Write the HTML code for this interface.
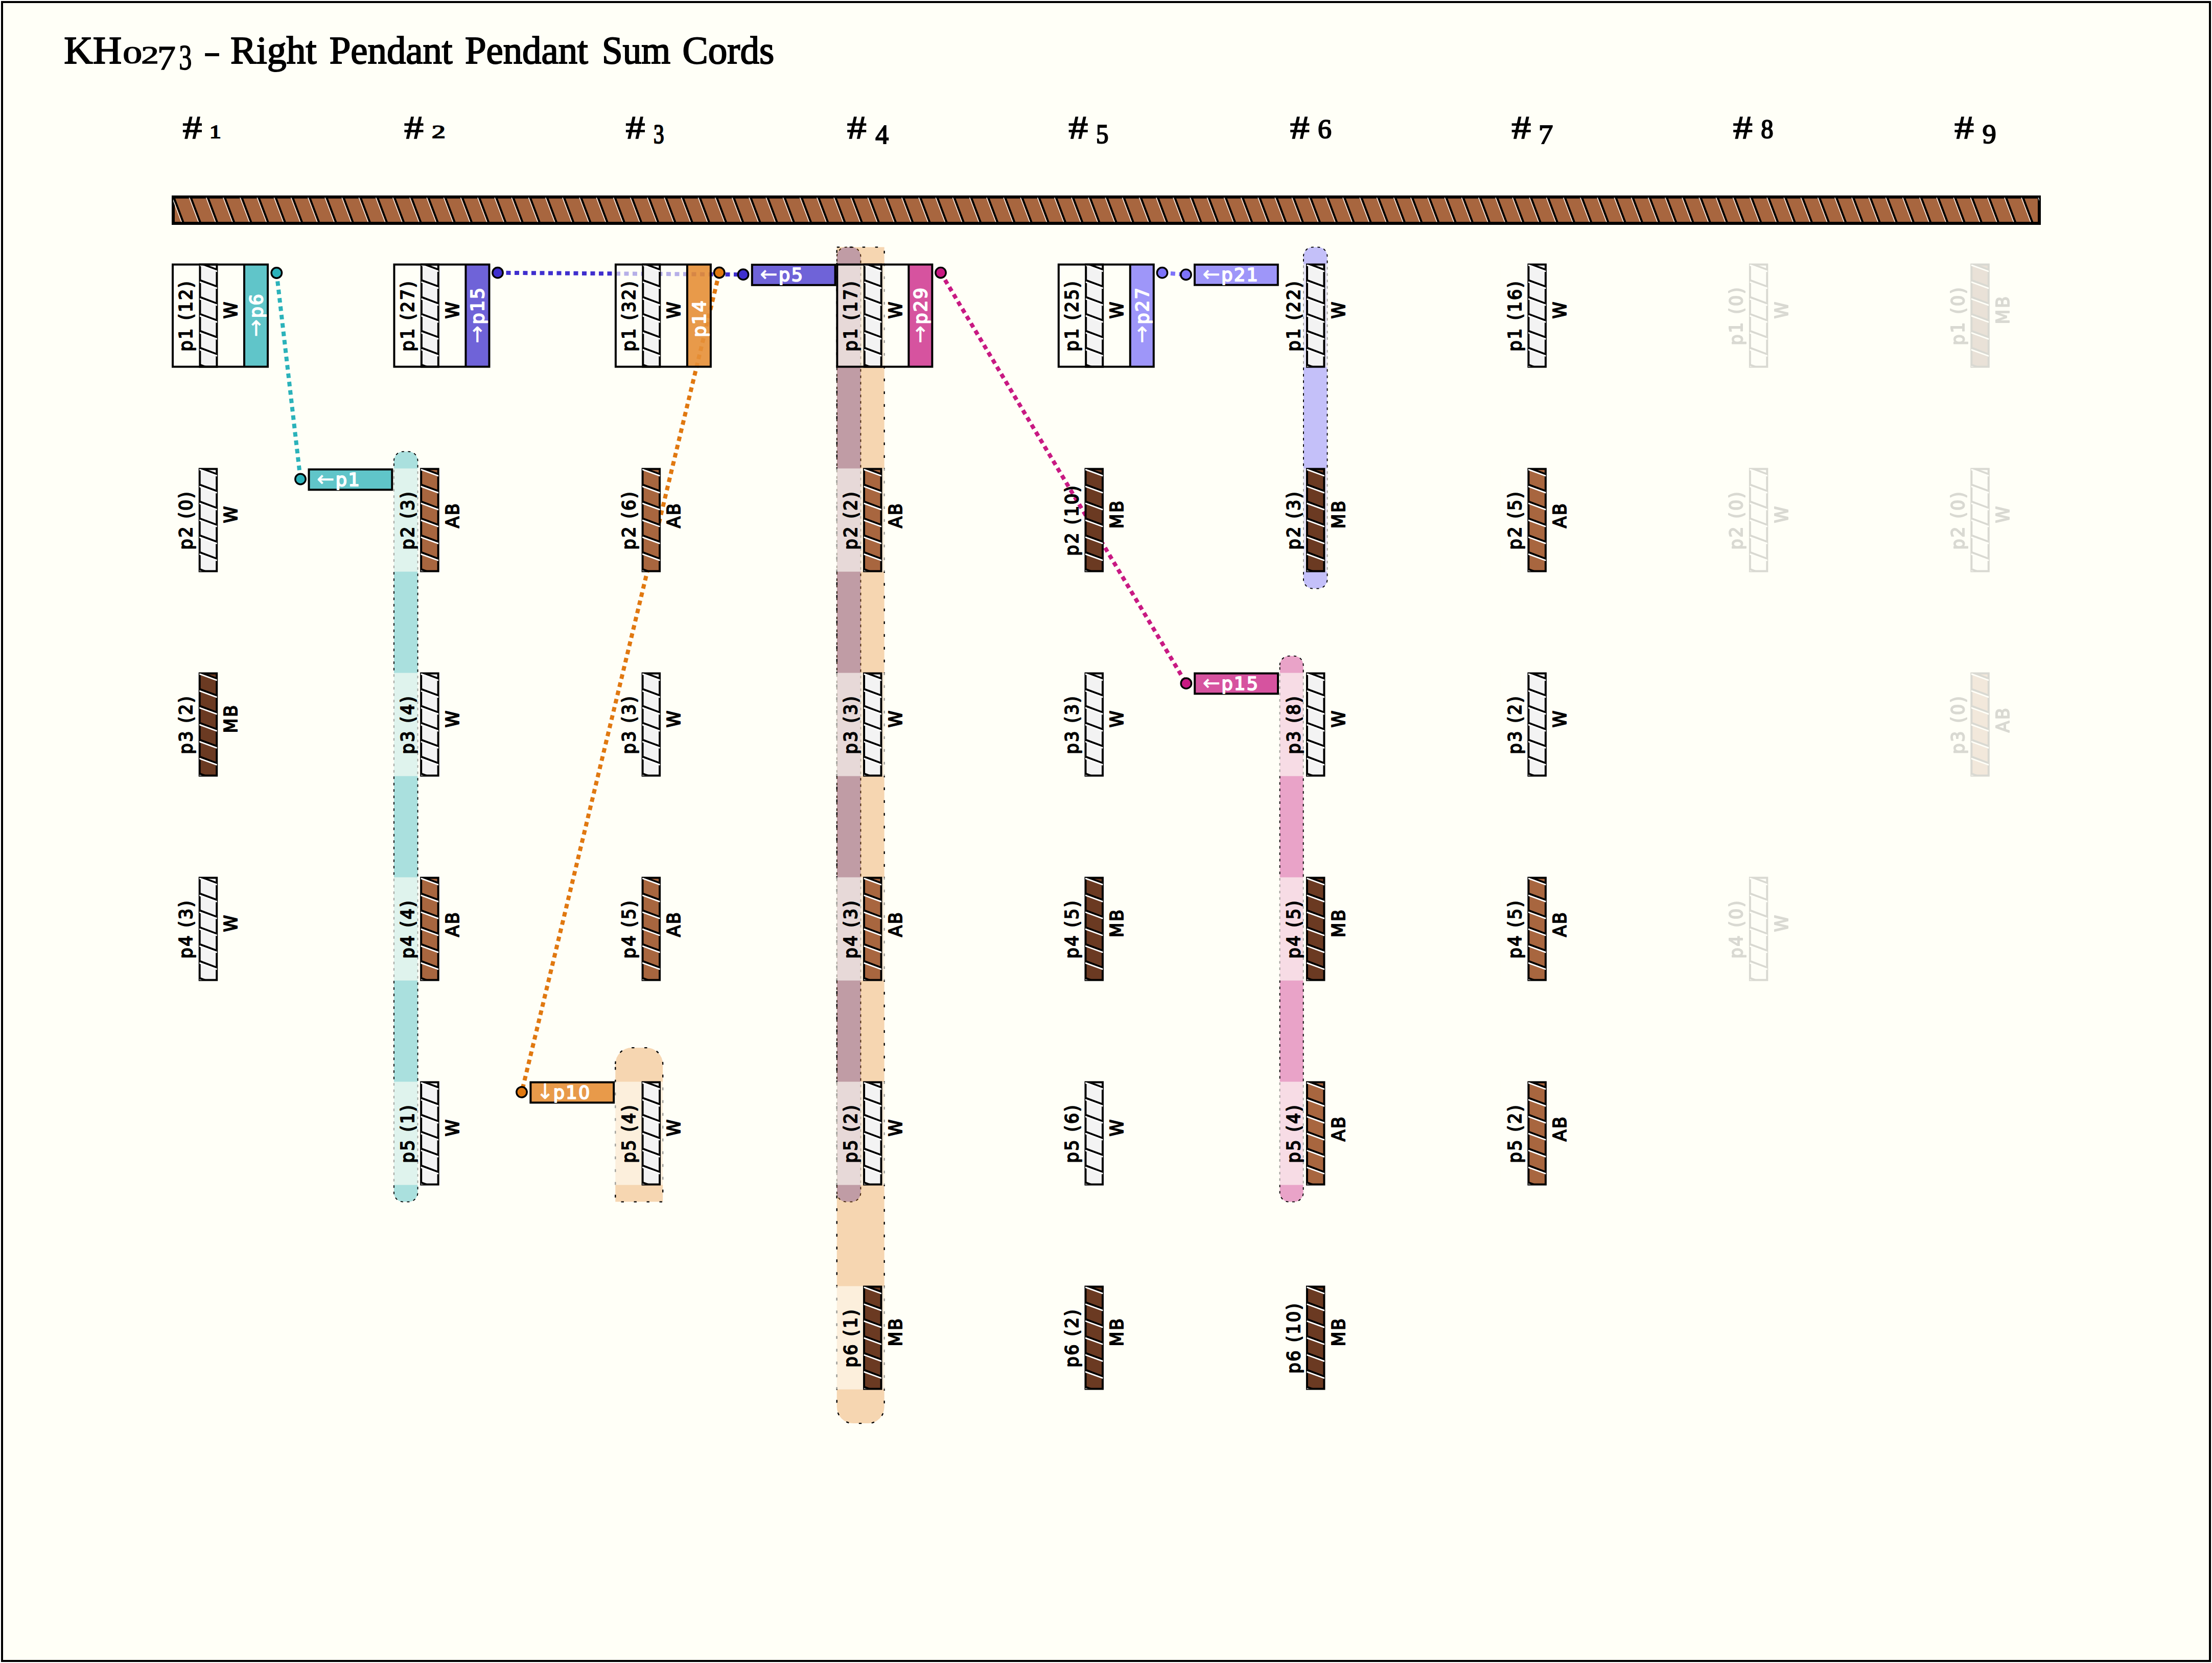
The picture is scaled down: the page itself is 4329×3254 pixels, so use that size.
<!DOCTYPE html><html><head><meta charset="utf-8"><title>KH0273 - Right Pendant Pendant Sum Cords</title>
<style>html,body{margin:0;padding:0;background:#fff;overflow:hidden;}svg{display:block}.lab{font-family:'DejaVu Sans','Liberation Sans',sans-serif;font-size:35.0px;stroke-width:2.0px;stroke-linejoin:round;paint-order:stroke fill;}.arr{font-size:41px;stroke-width:0.6px;}.ser{font-family:"Liberation Serif","DejaVu Serif",serif;}</style></head><body>
<svg width="4329" height="3254" viewBox="0 0 4329 3254">
<rect x="0" y="0" width="4329" height="3254" fill="#fff"/>
<rect x="4" y="4" width="4321" height="3246" fill="#fffff7" stroke="#000" stroke-width="4"/>
<text class="ser" stroke="#000"><tspan x="125.2" y="124.4" font-size="75.5" stroke-width="2.0" textLength="113" lengthAdjust="spacingAndGlyphs">KH</tspan><tspan x="240.21" y="124.02" font-size="48.3" stroke-width="1.24" textLength="37.97" lengthAdjust="spacingAndGlyphs">0</tspan><tspan x="276.15" y="123.6" font-size="48.04" stroke-width="1.31" textLength="34.66" lengthAdjust="spacingAndGlyphs">2</tspan><tspan x="307.83" y="136.3" font-size="67.94" stroke-width="1.36" textLength="36.17" lengthAdjust="spacingAndGlyphs">7</tspan><tspan x="350.28" y="136.11" font-size="69.2" stroke-width="1.62" textLength="25.18" lengthAdjust="spacingAndGlyphs">3</tspan> <tspan x="397.26" y="126.1" font-size="81.33" stroke-width="0.17" textLength="35.48" lengthAdjust="spacingAndGlyphs">-</tspan> <tspan x="451.1" y="124.4" font-size="75.5" stroke-width="2.0" textLength="168.4" lengthAdjust="spacingAndGlyphs">Right</tspan> <tspan x="644.8" y="124.4" font-size="75.5" stroke-width="2.0" textLength="240.8" lengthAdjust="spacingAndGlyphs">Pendant</tspan> <tspan x="910" y="124.4" font-size="75.5" stroke-width="2.0" textLength="240.8" lengthAdjust="spacingAndGlyphs">Pendant</tspan> <tspan x="1178" y="124.4" font-size="75.5" stroke-width="2.0" textLength="134" lengthAdjust="spacingAndGlyphs">Sum</tspan> <tspan x="1335.6" y="124.4" font-size="75.5" stroke-width="2.0" textLength="179.7" lengthAdjust="spacingAndGlyphs">Cords</tspan></text>
<text class="ser" stroke="#000"><tspan x="357.53" y="271.4" font-size="62.75" stroke-width="1.63" textLength="37.93" lengthAdjust="spacingAndGlyphs">#</tspan> <tspan x="410" y="270.4" font-size="36.67" stroke-width="1.79" textLength="22.73" lengthAdjust="spacingAndGlyphs">1</tspan></text>
<text class="ser" stroke="#000"><tspan x="790.98" y="271.4" font-size="62.75" stroke-width="1.63" textLength="37.93" lengthAdjust="spacingAndGlyphs">#</tspan> <tspan x="845.09" y="270.4" font-size="36.56" stroke-width="1.62" textLength="26.81" lengthAdjust="spacingAndGlyphs">2</tspan></text>
<text class="ser" stroke="#000"><tspan x="1224.43" y="271.4" font-size="62.75" stroke-width="1.63" textLength="37.93" lengthAdjust="spacingAndGlyphs">#</tspan> <tspan x="1278.92" y="280.28" font-size="52.08" stroke-width="2.23" textLength="20.58" lengthAdjust="spacingAndGlyphs">3</tspan></text>
<text class="ser" stroke="#000"><tspan x="1657.88" y="271.4" font-size="62.75" stroke-width="1.63" textLength="37.93" lengthAdjust="spacingAndGlyphs">#</tspan> <tspan x="1713.32" y="280.8" font-size="53.19" stroke-width="2.03" textLength="25.86" lengthAdjust="spacingAndGlyphs">4</tspan></text>
<text class="ser" stroke="#000"><tspan x="2091.33" y="271.4" font-size="62.75" stroke-width="1.63" textLength="37.93" lengthAdjust="spacingAndGlyphs">#</tspan> <tspan x="2144.96" y="280.27" font-size="52.63" stroke-width="2.07" textLength="24.44" lengthAdjust="spacingAndGlyphs">5</tspan></text>
<text class="ser" stroke="#000"><tspan x="2524.78" y="271.4" font-size="62.75" stroke-width="1.63" textLength="37.93" lengthAdjust="spacingAndGlyphs">#</tspan> <tspan x="2578.93" y="270.27" font-size="53.42" stroke-width="1.99" textLength="26.93" lengthAdjust="spacingAndGlyphs">6</tspan></text>
<text class="ser" stroke="#000"><tspan x="2958.23" y="271.4" font-size="62.75" stroke-width="1.63" textLength="37.93" lengthAdjust="spacingAndGlyphs">#</tspan> <tspan x="3010.95" y="280.8" font-size="53.44" stroke-width="1.94" textLength="28.4" lengthAdjust="spacingAndGlyphs">7</tspan></text>
<text class="ser" stroke="#000"><tspan x="3391.68" y="271.4" font-size="62.75" stroke-width="1.63" textLength="37.93" lengthAdjust="spacingAndGlyphs">#</tspan> <tspan x="3446.3" y="270.27" font-size="53.19" stroke-width="2.09" textLength="24.29" lengthAdjust="spacingAndGlyphs">8</tspan></text>
<text class="ser" stroke="#000"><tspan x="3825.13" y="271.4" font-size="62.75" stroke-width="1.63" textLength="37.93" lengthAdjust="spacingAndGlyphs">#</tspan> <tspan x="3879.88" y="280.28" font-size="52.08" stroke-width="1.97" textLength="26.93" lengthAdjust="spacingAndGlyphs">9</tspan></text>
<g><clipPath id="pc"><rect x="339" y="385.5" width="3652" height="51.5"/></clipPath>
<clipPath id="pcw"><rect x="339" y="386.7" width="3652" height="47.5"/></clipPath>
<rect x="339" y="385.5" width="3652" height="51.5" fill="#a8663f"/>
<path clip-path="url(#pc)" d="M306.13,383.5l20.93,55.5M339.33,383.5l20.93,55.5M372.53,383.5l20.93,55.5M405.73,383.5l20.93,55.5M438.93,383.5l20.93,55.5M472.13,383.5l20.93,55.5M505.33,383.5l20.93,55.5M538.53,383.5l20.93,55.5M571.73,383.5l20.93,55.5M604.93,383.5l20.93,55.5M638.13,383.5l20.93,55.5M671.33,383.5l20.93,55.5M704.53,383.5l20.93,55.5M737.73,383.5l20.93,55.5M770.93,383.5l20.93,55.5M804.13,383.5l20.93,55.5M837.33,383.5l20.93,55.5M870.53,383.5l20.93,55.5M903.73,383.5l20.93,55.5M936.93,383.5l20.93,55.5M970.13,383.5l20.93,55.5M1003.33,383.5l20.93,55.5M1036.53,383.5l20.93,55.5M1069.73,383.5l20.93,55.5M1102.93,383.5l20.93,55.5M1136.13,383.5l20.93,55.5M1169.33,383.5l20.93,55.5M1202.53,383.5l20.93,55.5M1235.73,383.5l20.93,55.5M1268.93,383.5l20.93,55.5M1302.13,383.5l20.93,55.5M1335.33,383.5l20.93,55.5M1368.53,383.5l20.93,55.5M1401.73,383.5l20.93,55.5M1434.93,383.5l20.93,55.5M1468.13,383.5l20.93,55.5M1501.33,383.5l20.93,55.5M1534.53,383.5l20.93,55.5M1567.73,383.5l20.93,55.5M1600.93,383.5l20.93,55.5M1634.13,383.5l20.93,55.5M1667.33,383.5l20.93,55.5M1700.53,383.5l20.93,55.5M1733.73,383.5l20.93,55.5M1766.93,383.5l20.93,55.5M1800.13,383.5l20.93,55.5M1833.33,383.5l20.93,55.5M1866.53,383.5l20.93,55.5M1899.73,383.5l20.93,55.5M1932.93,383.5l20.93,55.5M1966.13,383.5l20.93,55.5M1999.33,383.5l20.93,55.5M2032.53,383.5l20.93,55.5M2065.73,383.5l20.93,55.5M2098.93,383.5l20.93,55.5M2132.13,383.5l20.93,55.5M2165.33,383.5l20.93,55.5M2198.53,383.5l20.93,55.5M2231.73,383.5l20.93,55.5M2264.93,383.5l20.93,55.5M2298.13,383.5l20.93,55.5M2331.33,383.5l20.93,55.5M2364.53,383.5l20.93,55.5M2397.73,383.5l20.93,55.5M2430.93,383.5l20.93,55.5M2464.13,383.5l20.93,55.5M2497.33,383.5l20.93,55.5M2530.53,383.5l20.93,55.5M2563.73,383.5l20.93,55.5M2596.93,383.5l20.93,55.5M2630.13,383.5l20.93,55.5M2663.33,383.5l20.93,55.5M2696.53,383.5l20.93,55.5M2729.73,383.5l20.93,55.5M2762.93,383.5l20.93,55.5M2796.13,383.5l20.93,55.5M2829.33,383.5l20.93,55.5M2862.53,383.5l20.93,55.5M2895.73,383.5l20.93,55.5M2928.93,383.5l20.93,55.5M2962.13,383.5l20.93,55.5M2995.33,383.5l20.93,55.5M3028.53,383.5l20.93,55.5M3061.73,383.5l20.93,55.5M3094.93,383.5l20.93,55.5M3128.13,383.5l20.93,55.5M3161.33,383.5l20.93,55.5M3194.53,383.5l20.93,55.5M3227.73,383.5l20.93,55.5M3260.93,383.5l20.93,55.5M3294.13,383.5l20.93,55.5M3327.33,383.5l20.93,55.5M3360.53,383.5l20.93,55.5M3393.73,383.5l20.93,55.5M3426.93,383.5l20.93,55.5M3460.13,383.5l20.93,55.5M3493.33,383.5l20.93,55.5M3526.53,383.5l20.93,55.5M3559.73,383.5l20.93,55.5M3592.93,383.5l20.93,55.5M3626.13,383.5l20.93,55.5M3659.33,383.5l20.93,55.5M3692.53,383.5l20.93,55.5M3725.73,383.5l20.93,55.5M3758.93,383.5l20.93,55.5M3792.13,383.5l20.93,55.5M3825.33,383.5l20.93,55.5M3858.53,383.5l20.93,55.5M3891.73,383.5l20.93,55.5M3924.93,383.5l20.93,55.5M3958.13,383.5l20.93,55.5M3991.33,383.5l20.93,55.5" stroke="#000" stroke-width="3.8" fill="none"/>
<rect x="339" y="385.5" width="3652" height="51.5" fill="none" stroke="#000" stroke-width="6"/>
<path clip-path="url(#pcw)" d="M302.73,383.5l20.93,55.5M335.93,383.5l20.93,55.5M369.13,383.5l20.93,55.5M402.33,383.5l20.93,55.5M435.53,383.5l20.93,55.5M468.73,383.5l20.93,55.5M501.93,383.5l20.93,55.5M535.13,383.5l20.93,55.5M568.33,383.5l20.93,55.5M601.53,383.5l20.93,55.5M634.73,383.5l20.93,55.5M667.93,383.5l20.93,55.5M701.13,383.5l20.93,55.5M734.33,383.5l20.93,55.5M767.53,383.5l20.93,55.5M800.73,383.5l20.93,55.5M833.93,383.5l20.93,55.5M867.13,383.5l20.93,55.5M900.33,383.5l20.93,55.5M933.53,383.5l20.93,55.5M966.73,383.5l20.93,55.5M999.93,383.5l20.93,55.5M1033.13,383.5l20.93,55.5M1066.33,383.5l20.93,55.5M1099.53,383.5l20.93,55.5M1132.73,383.5l20.93,55.5M1165.93,383.5l20.93,55.5M1199.13,383.5l20.93,55.5M1232.33,383.5l20.93,55.5M1265.53,383.5l20.93,55.5M1298.73,383.5l20.93,55.5M1331.93,383.5l20.93,55.5M1365.13,383.5l20.93,55.5M1398.33,383.5l20.93,55.5M1431.53,383.5l20.93,55.5M1464.73,383.5l20.93,55.5M1497.93,383.5l20.93,55.5M1531.13,383.5l20.93,55.5M1564.33,383.5l20.93,55.5M1597.53,383.5l20.93,55.5M1630.73,383.5l20.93,55.5M1663.93,383.5l20.93,55.5M1697.13,383.5l20.93,55.5M1730.33,383.5l20.93,55.5M1763.53,383.5l20.93,55.5M1796.73,383.5l20.93,55.5M1829.93,383.5l20.93,55.5M1863.13,383.5l20.93,55.5M1896.33,383.5l20.93,55.5M1929.53,383.5l20.93,55.5M1962.73,383.5l20.93,55.5M1995.93,383.5l20.93,55.5M2029.13,383.5l20.93,55.5M2062.33,383.5l20.93,55.5M2095.53,383.5l20.93,55.5M2128.73,383.5l20.93,55.5M2161.93,383.5l20.93,55.5M2195.13,383.5l20.93,55.5M2228.33,383.5l20.93,55.5M2261.53,383.5l20.93,55.5M2294.73,383.5l20.93,55.5M2327.93,383.5l20.93,55.5M2361.13,383.5l20.93,55.5M2394.33,383.5l20.93,55.5M2427.53,383.5l20.93,55.5M2460.73,383.5l20.93,55.5M2493.93,383.5l20.93,55.5M2527.13,383.5l20.93,55.5M2560.33,383.5l20.93,55.5M2593.53,383.5l20.93,55.5M2626.73,383.5l20.93,55.5M2659.93,383.5l20.93,55.5M2693.13,383.5l20.93,55.5M2726.33,383.5l20.93,55.5M2759.53,383.5l20.93,55.5M2792.73,383.5l20.93,55.5M2825.93,383.5l20.93,55.5M2859.13,383.5l20.93,55.5M2892.33,383.5l20.93,55.5M2925.53,383.5l20.93,55.5M2958.73,383.5l20.93,55.5M2991.93,383.5l20.93,55.5M3025.13,383.5l20.93,55.5M3058.33,383.5l20.93,55.5M3091.53,383.5l20.93,55.5M3124.73,383.5l20.93,55.5M3157.93,383.5l20.93,55.5M3191.13,383.5l20.93,55.5M3224.33,383.5l20.93,55.5M3257.53,383.5l20.93,55.5M3290.73,383.5l20.93,55.5M3323.93,383.5l20.93,55.5M3357.13,383.5l20.93,55.5M3390.33,383.5l20.93,55.5M3423.53,383.5l20.93,55.5M3456.73,383.5l20.93,55.5M3489.93,383.5l20.93,55.5M3523.13,383.5l20.93,55.5M3556.33,383.5l20.93,55.5M3589.53,383.5l20.93,55.5M3622.73,383.5l20.93,55.5M3655.93,383.5l20.93,55.5M3689.13,383.5l20.93,55.5M3722.33,383.5l20.93,55.5M3755.53,383.5l20.93,55.5M3788.73,383.5l20.93,55.5M3821.93,383.5l20.93,55.5M3855.13,383.5l20.93,55.5M3888.33,383.5l20.93,55.5M3921.53,383.5l20.93,55.5M3954.73,383.5l20.93,55.5M3987.93,383.5l20.93,55.5" stroke="#fff" stroke-width="1.3" fill="none"/></g>
<path d="M770.95,901.6 A18,18 0 0 1 788.95,883.6 L799.55,883.6 A18,18 0 0 1 817.55,901.6 L817.55,2333.6 A18,18 0 0 1 799.55,2351.6 L788.95,2351.6 A18,18 0 0 1 770.95,2333.6 Z" fill="#2bb2ba" fill-opacity="0.4" stroke="#000" stroke-width="1.9" stroke-dasharray="5 7.5"/>
<path d="M1204.3,2082.1 A32,32 0 0 1 1236.3,2050.1 L1265.2,2050.1 A32,32 0 0 1 1297.2,2082.1 L1297.2,2351.6 L1204.3,2351.6 Z" fill="#e07810" fill-opacity="0.3" stroke="#000" stroke-width="2.4" stroke-dasharray="5.4 19.6"/>
<path d="M1637.85,501.6 A18,18 0 0 1 1655.85,483.6 L1666.45,483.6 A18,18 0 0 1 1684.45,501.6 L1684.45,2333.6 A18,18 0 0 1 1666.45,2351.6 L1655.85,2351.6 A18,18 0 0 1 1637.85,2333.6 Z" fill="#3f2fce" fill-opacity="0.4" stroke="#000" stroke-width="1.9" stroke-dasharray="5 7.5"/>
<path d="M1637.75,483.6 L1730.65,483.6 L1730.65,2753.1 A32,32 0 0 1 1698.65,2785.1 L1669.75,2785.1 A32,32 0 0 1 1637.75,2753.1 Z" fill="#e07810" fill-opacity="0.3" stroke="#000" stroke-width="2.4" stroke-dasharray="5.4 19.6"/>
<path d="M2550.95,501.6 A18,18 0 0 1 2568.95,483.6 L2579.55,483.6 A18,18 0 0 1 2597.55,501.6 L2597.55,1133.6 A18,18 0 0 1 2579.55,1151.6 L2568.95,1151.6 A18,18 0 0 1 2550.95,1133.6 Z" fill="#7d73fa" fill-opacity="0.45" stroke="#000" stroke-width="1.9" stroke-dasharray="5 7.5"/>
<path d="M2504.65,1301.6 A18,18 0 0 1 2522.65,1283.6 L2532.65,1283.6 A18,18 0 0 1 2550.65,1301.6 L2550.65,2333.6 A18,18 0 0 1 2532.65,2351.6 L2522.65,2351.6 A18,18 0 0 1 2504.65,2333.6 Z" fill="#c81982" fill-opacity="0.4" stroke="#000" stroke-width="1.9" stroke-dasharray="5 7.5"/>
<rect x="336" y="916.6" width="96" height="202" fill="#fffff7" fill-opacity="0.62"/>
<rect x="336" y="1316.6" width="96" height="202" fill="#fffff7" fill-opacity="0.62"/>
<rect x="336" y="1716.6" width="96" height="202" fill="#fffff7" fill-opacity="0.62"/>
<rect x="769.45" y="916.6" width="96" height="202" fill="#fffff7" fill-opacity="0.62"/>
<rect x="769.45" y="1316.6" width="96" height="202" fill="#fffff7" fill-opacity="0.62"/>
<rect x="769.45" y="1716.6" width="96" height="202" fill="#fffff7" fill-opacity="0.62"/>
<rect x="769.45" y="2116.6" width="96" height="202" fill="#fffff7" fill-opacity="0.62"/>
<rect x="1202.9" y="916.6" width="96" height="202" fill="#fffff7" fill-opacity="0.62"/>
<rect x="1202.9" y="1316.6" width="96" height="202" fill="#fffff7" fill-opacity="0.62"/>
<rect x="1202.9" y="1716.6" width="96" height="202" fill="#fffff7" fill-opacity="0.62"/>
<rect x="1202.9" y="2116.6" width="96" height="202" fill="#fffff7" fill-opacity="0.62"/>
<rect x="1636.35" y="916.6" width="96" height="202" fill="#fffff7" fill-opacity="0.62"/>
<rect x="1636.35" y="1316.6" width="96" height="202" fill="#fffff7" fill-opacity="0.62"/>
<rect x="1636.35" y="1716.6" width="96" height="202" fill="#fffff7" fill-opacity="0.62"/>
<rect x="1636.35" y="2116.6" width="96" height="202" fill="#fffff7" fill-opacity="0.62"/>
<rect x="1636.35" y="2516.6" width="96" height="202" fill="#fffff7" fill-opacity="0.62"/>
<rect x="2069.8" y="916.6" width="96" height="202" fill="#fffff7" fill-opacity="0.62"/>
<rect x="2069.8" y="1316.6" width="96" height="202" fill="#fffff7" fill-opacity="0.62"/>
<rect x="2069.8" y="1716.6" width="96" height="202" fill="#fffff7" fill-opacity="0.62"/>
<rect x="2069.8" y="2116.6" width="96" height="202" fill="#fffff7" fill-opacity="0.62"/>
<rect x="2069.8" y="2516.6" width="96" height="202" fill="#fffff7" fill-opacity="0.62"/>
<rect x="2503.25" y="516.6" width="96" height="202" fill="#fffff7" fill-opacity="0.62"/>
<rect x="2503.25" y="916.6" width="96" height="202" fill="#fffff7" fill-opacity="0.62"/>
<rect x="2503.25" y="1316.6" width="96" height="202" fill="#fffff7" fill-opacity="0.62"/>
<rect x="2503.25" y="1716.6" width="96" height="202" fill="#fffff7" fill-opacity="0.62"/>
<rect x="2503.25" y="2116.6" width="96" height="202" fill="#fffff7" fill-opacity="0.62"/>
<rect x="2503.25" y="2516.6" width="96" height="202" fill="#fffff7" fill-opacity="0.62"/>
<rect x="2936.7" y="516.6" width="96" height="202" fill="#fffff7" fill-opacity="0.62"/>
<rect x="2936.7" y="916.6" width="96" height="202" fill="#fffff7" fill-opacity="0.62"/>
<rect x="2936.7" y="1316.6" width="96" height="202" fill="#fffff7" fill-opacity="0.62"/>
<rect x="2936.7" y="1716.6" width="96" height="202" fill="#fffff7" fill-opacity="0.62"/>
<rect x="2936.7" y="2116.6" width="96" height="202" fill="#fffff7" fill-opacity="0.62"/>
<rect x="3370.15" y="516.6" width="96" height="202" fill="#fffff7" fill-opacity="0.62"/>
<rect x="3370.15" y="916.6" width="96" height="202" fill="#fffff7" fill-opacity="0.62"/>
<rect x="3370.15" y="1716.6" width="96" height="202" fill="#fffff7" fill-opacity="0.62"/>
<rect x="3803.6" y="516.6" width="96" height="202" fill="#fffff7" fill-opacity="0.62"/>
<rect x="3803.6" y="916.6" width="96" height="202" fill="#fffff7" fill-opacity="0.62"/>
<rect x="3803.6" y="1316.6" width="96" height="202" fill="#fffff7" fill-opacity="0.62"/>
<line x1="541.3" y1="534" x2="588" y2="937.5" stroke="#2bb2ba" stroke-width="8" stroke-dasharray="9 7.5"/>
<line x1="974" y1="533.7" x2="1454.5" y2="537.2" stroke="#3f2fce" stroke-width="8" stroke-dasharray="9 7.5"/>
<line x1="1407.7" y1="533.5" x2="1021" y2="2137" stroke="#e07810" stroke-width="8" stroke-dasharray="9 7.5"/>
<line x1="1841" y1="533.6" x2="2321.4" y2="1337.2" stroke="#c81982" stroke-width="8" stroke-dasharray="9 7.5"/>
<line x1="2274.5" y1="533.7" x2="2321" y2="537.3" stroke="#7d73fa" stroke-width="8" stroke-dasharray="9 7.5"/>
<rect x="338" y="517.6" width="186" height="200" fill="#fffff7" fill-opacity="0.62"/>
<rect x="478" y="517.6" width="46" height="200" fill="#2bb2ba" fill-opacity="0.75"/>
<g><clipPath id="c391_517"><rect x="390.8" y="517.6" width="34.2" height="200"/></clipPath>
<rect x="391.4" y="517.6" width="33" height="200" fill="#f3f3f3"/>
<path clip-path="url(#c391_517)" d="M391.4,482.1L424.4,494.52M391.4,515.2L424.4,527.62M391.4,548.3L424.4,560.72M391.4,581.4L424.4,593.82M391.4,614.5L424.4,626.92M391.4,647.6L424.4,660.02M391.4,680.7L424.4,693.12M391.4,713.8L424.4,726.22M391.4,746.9L424.4,759.32" stroke="#000" stroke-width="4" fill="none"/>
<rect x="391.4" y="517.6" width="33" height="200" fill="none" stroke="#000" stroke-width="4"/>
<path clip-path="url(#c391_517)" d="M390.8,485.5L425,497.92M390.8,518.6L425,531.02M390.8,551.7L425,564.12M390.8,584.8L425,597.22M390.8,617.9L425,630.32M390.8,651L425,663.42M390.8,684.1L425,696.52M390.8,717.2L425,729.62M390.8,750.3L425,762.72" stroke="#fff" stroke-width="2.8" fill="none"/></g>
<line x1="478" y1="517.6" x2="478" y2="717.6" stroke="#000" stroke-width="4"/>
<rect x="338" y="517.6" width="186" height="200" fill="none" stroke="#000" stroke-width="4"/>
<text transform="translate(513.8,615.9) rotate(-90) scale(1.0,1)" text-anchor="middle" fill="#fff" stroke="#fff" class="lab" letter-spacing="2.40"><tspan class="arr">→</tspan>p6</text>
<text transform="translate(376.3,617.55) rotate(-90) scale(0.95,1)" text-anchor="middle" fill="#000" stroke="#000" class="lab" letter-spacing="2.84">p1 (12)</text>
<text transform="translate(464.4,605.75) rotate(-90) scale(0.95,1)" text-anchor="middle" fill="#000" stroke="#000" class="lab" letter-spacing="2.84">W</text>
<g><clipPath id="c390_917"><rect x="390.1" y="917.6" width="34.7" height="200"/></clipPath>
<rect x="390.7" y="917.6" width="33.5" height="200" fill="#f3f3f3"/>
<path clip-path="url(#c390_917)" d="M390.7,882.1L424.2,894.71M390.7,915.2L424.2,927.81M390.7,948.3L424.2,960.91M390.7,981.4L424.2,994.01M390.7,1014.5L424.2,1027.11M390.7,1047.6L424.2,1060.21M390.7,1080.7L424.2,1093.31M390.7,1113.8L424.2,1126.41M390.7,1146.9L424.2,1159.51" stroke="#000" stroke-width="4" fill="none"/>
<rect x="390.7" y="917.6" width="33.5" height="200" fill="none" stroke="#000" stroke-width="4"/>
<path clip-path="url(#c390_917)" d="M390.1,885.5L424.8,898.11M390.1,918.6L424.8,931.21M390.1,951.7L424.8,964.31M390.1,984.8L424.8,997.41M390.1,1017.9L424.8,1030.51M390.1,1051L424.8,1063.61M390.1,1084.1L424.8,1096.71M390.1,1117.2L424.8,1129.81M390.1,1150.3L424.8,1162.91" stroke="#fff" stroke-width="2.8" fill="none"/></g>
<text transform="translate(376.3,1017.55) rotate(-90) scale(0.95,1)" text-anchor="middle" fill="#000" stroke="#000" class="lab" letter-spacing="2.84">p2 (0)</text>
<text transform="translate(464.4,1005.75) rotate(-90) scale(0.95,1)" text-anchor="middle" fill="#000" stroke="#000" class="lab" letter-spacing="2.84">W</text>
<g><clipPath id="c390_1317"><rect x="390.1" y="1317.6" width="34.7" height="200"/></clipPath>
<rect x="390.7" y="1317.6" width="33.5" height="200" fill="#6b3a22"/>
<path clip-path="url(#c390_1317)" d="M390.7,1282.1L424.2,1294.71M390.7,1315.2L424.2,1327.81M390.7,1348.3L424.2,1360.91M390.7,1381.4L424.2,1394.01M390.7,1414.5L424.2,1427.11M390.7,1447.6L424.2,1460.21M390.7,1480.7L424.2,1493.31M390.7,1513.8L424.2,1526.41M390.7,1546.9L424.2,1559.51" stroke="#000" stroke-width="4" fill="none"/>
<rect x="390.7" y="1317.6" width="33.5" height="200" fill="none" stroke="#000" stroke-width="4"/>
<path clip-path="url(#c390_1317)" d="M390.1,1285.5L424.8,1298.11M390.1,1318.6L424.8,1331.21M390.1,1351.7L424.8,1364.31M390.1,1384.8L424.8,1397.41M390.1,1417.9L424.8,1430.51M390.1,1451L424.8,1463.61M390.1,1484.1L424.8,1496.71M390.1,1517.2L424.8,1529.81M390.1,1550.3L424.8,1562.91" stroke="#fff" stroke-width="2.8" fill="none"/></g>
<text transform="translate(376.3,1417.55) rotate(-90) scale(0.95,1)" text-anchor="middle" fill="#000" stroke="#000" class="lab" letter-spacing="2.84">p3 (2)</text>
<text transform="translate(464.4,1405.75) rotate(-90) scale(0.95,1)" text-anchor="middle" fill="#000" stroke="#000" class="lab" letter-spacing="2.84">MB</text>
<g><clipPath id="c390_1717"><rect x="390.1" y="1717.6" width="34.7" height="200"/></clipPath>
<rect x="390.7" y="1717.6" width="33.5" height="200" fill="#f3f3f3"/>
<path clip-path="url(#c390_1717)" d="M390.7,1682.1L424.2,1694.71M390.7,1715.2L424.2,1727.81M390.7,1748.3L424.2,1760.91M390.7,1781.4L424.2,1794.01M390.7,1814.5L424.2,1827.11M390.7,1847.6L424.2,1860.21M390.7,1880.7L424.2,1893.31M390.7,1913.8L424.2,1926.41M390.7,1946.9L424.2,1959.51" stroke="#000" stroke-width="4" fill="none"/>
<rect x="390.7" y="1717.6" width="33.5" height="200" fill="none" stroke="#000" stroke-width="4"/>
<path clip-path="url(#c390_1717)" d="M390.1,1685.5L424.8,1698.11M390.1,1718.6L424.8,1731.21M390.1,1751.7L424.8,1764.31M390.1,1784.8L424.8,1797.41M390.1,1817.9L424.8,1830.51M390.1,1851L424.8,1863.61M390.1,1884.1L424.8,1896.71M390.1,1917.2L424.8,1929.81M390.1,1950.3L424.8,1962.91" stroke="#fff" stroke-width="2.8" fill="none"/></g>
<text transform="translate(376.3,1817.55) rotate(-90) scale(0.95,1)" text-anchor="middle" fill="#000" stroke="#000" class="lab" letter-spacing="2.84">p4 (3)</text>
<text transform="translate(464.4,1805.75) rotate(-90) scale(0.95,1)" text-anchor="middle" fill="#000" stroke="#000" class="lab" letter-spacing="2.84">W</text>
<rect x="771.45" y="517.6" width="186" height="200" fill="#fffff7" fill-opacity="0.62"/>
<rect x="911.45" y="517.6" width="46" height="200" fill="#3f2fce" fill-opacity="0.75"/>
<g><clipPath id="c824_517"><rect x="824.25" y="517.6" width="34.2" height="200"/></clipPath>
<rect x="824.85" y="517.6" width="33" height="200" fill="#f3f3f3"/>
<path clip-path="url(#c824_517)" d="M824.85,482.1L857.85,494.52M824.85,515.2L857.85,527.62M824.85,548.3L857.85,560.72M824.85,581.4L857.85,593.82M824.85,614.5L857.85,626.92M824.85,647.6L857.85,660.02M824.85,680.7L857.85,693.12M824.85,713.8L857.85,726.22M824.85,746.9L857.85,759.32" stroke="#000" stroke-width="4" fill="none"/>
<rect x="824.85" y="517.6" width="33" height="200" fill="none" stroke="#000" stroke-width="4"/>
<path clip-path="url(#c824_517)" d="M824.25,485.5L858.45,497.92M824.25,518.6L858.45,531.02M824.25,551.7L858.45,564.12M824.25,584.8L858.45,597.22M824.25,617.9L858.45,630.32M824.25,651L858.45,663.42M824.25,684.1L858.45,696.52M824.25,717.2L858.45,729.62M824.25,750.3L858.45,762.72" stroke="#fff" stroke-width="2.8" fill="none"/></g>
<line x1="911.45" y1="517.6" x2="911.45" y2="717.6" stroke="#000" stroke-width="4"/>
<rect x="771.45" y="517.6" width="186" height="200" fill="none" stroke="#000" stroke-width="4"/>
<text transform="translate(947.25,615.9) rotate(-90) scale(1.0,1)" text-anchor="middle" fill="#fff" stroke="#fff" class="lab" letter-spacing="2.40"><tspan class="arr">→</tspan>p15</text>
<text transform="translate(809.75,617.55) rotate(-90) scale(0.95,1)" text-anchor="middle" fill="#000" stroke="#000" class="lab" letter-spacing="2.84">p1 (27)</text>
<text transform="translate(897.85,605.75) rotate(-90) scale(0.95,1)" text-anchor="middle" fill="#000" stroke="#000" class="lab" letter-spacing="2.84">W</text>
<g><clipPath id="c824_917"><rect x="823.55" y="917.6" width="34.7" height="200"/></clipPath>
<rect x="824.15" y="917.6" width="33.5" height="200" fill="#a8663f"/>
<path clip-path="url(#c824_917)" d="M824.15,882.1L857.65,894.71M824.15,915.2L857.65,927.81M824.15,948.3L857.65,960.91M824.15,981.4L857.65,994.01M824.15,1014.5L857.65,1027.11M824.15,1047.6L857.65,1060.21M824.15,1080.7L857.65,1093.31M824.15,1113.8L857.65,1126.41M824.15,1146.9L857.65,1159.51" stroke="#000" stroke-width="4" fill="none"/>
<rect x="824.15" y="917.6" width="33.5" height="200" fill="none" stroke="#000" stroke-width="4"/>
<path clip-path="url(#c824_917)" d="M823.55,885.5L858.25,898.11M823.55,918.6L858.25,931.21M823.55,951.7L858.25,964.31M823.55,984.8L858.25,997.41M823.55,1017.9L858.25,1030.51M823.55,1051L858.25,1063.61M823.55,1084.1L858.25,1096.71M823.55,1117.2L858.25,1129.81M823.55,1150.3L858.25,1162.91" stroke="#fff" stroke-width="2.8" fill="none"/></g>
<text transform="translate(809.75,1017.55) rotate(-90) scale(0.95,1)" text-anchor="middle" fill="#000" stroke="#000" class="lab" letter-spacing="2.84">p2 (3)</text>
<text transform="translate(897.85,1007.85) rotate(-90) scale(0.95,1)" text-anchor="middle" fill="#000" stroke="#000" class="lab" letter-spacing="2.84">AB</text>
<g><clipPath id="c824_1317"><rect x="823.55" y="1317.6" width="34.7" height="200"/></clipPath>
<rect x="824.15" y="1317.6" width="33.5" height="200" fill="#f3f3f3"/>
<path clip-path="url(#c824_1317)" d="M824.15,1282.1L857.65,1294.71M824.15,1315.2L857.65,1327.81M824.15,1348.3L857.65,1360.91M824.15,1381.4L857.65,1394.01M824.15,1414.5L857.65,1427.11M824.15,1447.6L857.65,1460.21M824.15,1480.7L857.65,1493.31M824.15,1513.8L857.65,1526.41M824.15,1546.9L857.65,1559.51" stroke="#000" stroke-width="4" fill="none"/>
<rect x="824.15" y="1317.6" width="33.5" height="200" fill="none" stroke="#000" stroke-width="4"/>
<path clip-path="url(#c824_1317)" d="M823.55,1285.5L858.25,1298.11M823.55,1318.6L858.25,1331.21M823.55,1351.7L858.25,1364.31M823.55,1384.8L858.25,1397.41M823.55,1417.9L858.25,1430.51M823.55,1451L858.25,1463.61M823.55,1484.1L858.25,1496.71M823.55,1517.2L858.25,1529.81M823.55,1550.3L858.25,1562.91" stroke="#fff" stroke-width="2.8" fill="none"/></g>
<text transform="translate(809.75,1417.55) rotate(-90) scale(0.95,1)" text-anchor="middle" fill="#000" stroke="#000" class="lab" letter-spacing="2.84">p3 (4)</text>
<text transform="translate(897.85,1405.75) rotate(-90) scale(0.95,1)" text-anchor="middle" fill="#000" stroke="#000" class="lab" letter-spacing="2.84">W</text>
<g><clipPath id="c824_1717"><rect x="823.55" y="1717.6" width="34.7" height="200"/></clipPath>
<rect x="824.15" y="1717.6" width="33.5" height="200" fill="#a8663f"/>
<path clip-path="url(#c824_1717)" d="M824.15,1682.1L857.65,1694.71M824.15,1715.2L857.65,1727.81M824.15,1748.3L857.65,1760.91M824.15,1781.4L857.65,1794.01M824.15,1814.5L857.65,1827.11M824.15,1847.6L857.65,1860.21M824.15,1880.7L857.65,1893.31M824.15,1913.8L857.65,1926.41M824.15,1946.9L857.65,1959.51" stroke="#000" stroke-width="4" fill="none"/>
<rect x="824.15" y="1717.6" width="33.5" height="200" fill="none" stroke="#000" stroke-width="4"/>
<path clip-path="url(#c824_1717)" d="M823.55,1685.5L858.25,1698.11M823.55,1718.6L858.25,1731.21M823.55,1751.7L858.25,1764.31M823.55,1784.8L858.25,1797.41M823.55,1817.9L858.25,1830.51M823.55,1851L858.25,1863.61M823.55,1884.1L858.25,1896.71M823.55,1917.2L858.25,1929.81M823.55,1950.3L858.25,1962.91" stroke="#fff" stroke-width="2.8" fill="none"/></g>
<text transform="translate(809.75,1817.55) rotate(-90) scale(0.95,1)" text-anchor="middle" fill="#000" stroke="#000" class="lab" letter-spacing="2.84">p4 (4)</text>
<text transform="translate(897.85,1807.85) rotate(-90) scale(0.95,1)" text-anchor="middle" fill="#000" stroke="#000" class="lab" letter-spacing="2.84">AB</text>
<g><clipPath id="c824_2117"><rect x="823.55" y="2117.6" width="34.7" height="200"/></clipPath>
<rect x="824.15" y="2117.6" width="33.5" height="200" fill="#f3f3f3"/>
<path clip-path="url(#c824_2117)" d="M824.15,2082.1L857.65,2094.71M824.15,2115.2L857.65,2127.81M824.15,2148.3L857.65,2160.91M824.15,2181.4L857.65,2194.01M824.15,2214.5L857.65,2227.11M824.15,2247.6L857.65,2260.21M824.15,2280.7L857.65,2293.31M824.15,2313.8L857.65,2326.41M824.15,2346.9L857.65,2359.51" stroke="#000" stroke-width="4" fill="none"/>
<rect x="824.15" y="2117.6" width="33.5" height="200" fill="none" stroke="#000" stroke-width="4"/>
<path clip-path="url(#c824_2117)" d="M823.55,2085.5L858.25,2098.11M823.55,2118.6L858.25,2131.21M823.55,2151.7L858.25,2164.31M823.55,2184.8L858.25,2197.41M823.55,2217.9L858.25,2230.51M823.55,2251L858.25,2263.61M823.55,2284.1L858.25,2296.71M823.55,2317.2L858.25,2329.81M823.55,2350.3L858.25,2362.91" stroke="#fff" stroke-width="2.8" fill="none"/></g>
<text transform="translate(809.75,2217.55) rotate(-90) scale(0.95,1)" text-anchor="middle" fill="#000" stroke="#000" class="lab" letter-spacing="2.84">p5 (1)</text>
<text transform="translate(897.85,2205.75) rotate(-90) scale(0.95,1)" text-anchor="middle" fill="#000" stroke="#000" class="lab" letter-spacing="2.84">W</text>
<rect x="1204.9" y="517.6" width="186" height="200" fill="#fffff7" fill-opacity="0.62"/>
<rect x="1344.9" y="517.6" width="46" height="200" fill="#e07810" fill-opacity="0.75"/>
<g><clipPath id="c1258_517"><rect x="1257.7" y="517.6" width="34.2" height="200"/></clipPath>
<rect x="1258.3" y="517.6" width="33" height="200" fill="#f3f3f3"/>
<path clip-path="url(#c1258_517)" d="M1258.3,482.1L1291.3,494.52M1258.3,515.2L1291.3,527.62M1258.3,548.3L1291.3,560.72M1258.3,581.4L1291.3,593.82M1258.3,614.5L1291.3,626.92M1258.3,647.6L1291.3,660.02M1258.3,680.7L1291.3,693.12M1258.3,713.8L1291.3,726.22M1258.3,746.9L1291.3,759.32" stroke="#000" stroke-width="4" fill="none"/>
<rect x="1258.3" y="517.6" width="33" height="200" fill="none" stroke="#000" stroke-width="4"/>
<path clip-path="url(#c1258_517)" d="M1257.7,485.5L1291.9,497.92M1257.7,518.6L1291.9,531.02M1257.7,551.7L1291.9,564.12M1257.7,584.8L1291.9,597.22M1257.7,617.9L1291.9,630.32M1257.7,651L1291.9,663.42M1257.7,684.1L1291.9,696.52M1257.7,717.2L1291.9,729.62M1257.7,750.3L1291.9,762.72" stroke="#fff" stroke-width="2.8" fill="none"/></g>
<line x1="1344.9" y1="517.6" x2="1344.9" y2="717.6" stroke="#000" stroke-width="4"/>
<rect x="1204.9" y="517.6" width="186" height="200" fill="none" stroke="#000" stroke-width="4"/>
<text transform="translate(1380.7,622.8) rotate(-90) scale(1.0,1)" text-anchor="middle" fill="#fff" stroke="#fff" class="lab" letter-spacing="2.40">p14</text>
<text transform="translate(1243.2,617.55) rotate(-90) scale(0.95,1)" text-anchor="middle" fill="#000" stroke="#000" class="lab" letter-spacing="2.84">p1 (32)</text>
<text transform="translate(1331.3,605.75) rotate(-90) scale(0.95,1)" text-anchor="middle" fill="#000" stroke="#000" class="lab" letter-spacing="2.84">W</text>
<g><clipPath id="c1257_917"><rect x="1257" y="917.6" width="34.7" height="200"/></clipPath>
<rect x="1257.6" y="917.6" width="33.5" height="200" fill="#a8663f"/>
<path clip-path="url(#c1257_917)" d="M1257.6,882.1L1291.1,894.71M1257.6,915.2L1291.1,927.81M1257.6,948.3L1291.1,960.91M1257.6,981.4L1291.1,994.01M1257.6,1014.5L1291.1,1027.11M1257.6,1047.6L1291.1,1060.21M1257.6,1080.7L1291.1,1093.31M1257.6,1113.8L1291.1,1126.41M1257.6,1146.9L1291.1,1159.51" stroke="#000" stroke-width="4" fill="none"/>
<rect x="1257.6" y="917.6" width="33.5" height="200" fill="none" stroke="#000" stroke-width="4"/>
<path clip-path="url(#c1257_917)" d="M1257,885.5L1291.7,898.11M1257,918.6L1291.7,931.21M1257,951.7L1291.7,964.31M1257,984.8L1291.7,997.41M1257,1017.9L1291.7,1030.51M1257,1051L1291.7,1063.61M1257,1084.1L1291.7,1096.71M1257,1117.2L1291.7,1129.81M1257,1150.3L1291.7,1162.91" stroke="#fff" stroke-width="2.8" fill="none"/></g>
<text transform="translate(1243.2,1017.55) rotate(-90) scale(0.95,1)" text-anchor="middle" fill="#000" stroke="#000" class="lab" letter-spacing="2.84">p2 (6)</text>
<text transform="translate(1331.3,1007.85) rotate(-90) scale(0.95,1)" text-anchor="middle" fill="#000" stroke="#000" class="lab" letter-spacing="2.84">AB</text>
<g><clipPath id="c1257_1317"><rect x="1257" y="1317.6" width="34.7" height="200"/></clipPath>
<rect x="1257.6" y="1317.6" width="33.5" height="200" fill="#f3f3f3"/>
<path clip-path="url(#c1257_1317)" d="M1257.6,1282.1L1291.1,1294.71M1257.6,1315.2L1291.1,1327.81M1257.6,1348.3L1291.1,1360.91M1257.6,1381.4L1291.1,1394.01M1257.6,1414.5L1291.1,1427.11M1257.6,1447.6L1291.1,1460.21M1257.6,1480.7L1291.1,1493.31M1257.6,1513.8L1291.1,1526.41M1257.6,1546.9L1291.1,1559.51" stroke="#000" stroke-width="4" fill="none"/>
<rect x="1257.6" y="1317.6" width="33.5" height="200" fill="none" stroke="#000" stroke-width="4"/>
<path clip-path="url(#c1257_1317)" d="M1257,1285.5L1291.7,1298.11M1257,1318.6L1291.7,1331.21M1257,1351.7L1291.7,1364.31M1257,1384.8L1291.7,1397.41M1257,1417.9L1291.7,1430.51M1257,1451L1291.7,1463.61M1257,1484.1L1291.7,1496.71M1257,1517.2L1291.7,1529.81M1257,1550.3L1291.7,1562.91" stroke="#fff" stroke-width="2.8" fill="none"/></g>
<text transform="translate(1243.2,1417.55) rotate(-90) scale(0.95,1)" text-anchor="middle" fill="#000" stroke="#000" class="lab" letter-spacing="2.84">p3 (3)</text>
<text transform="translate(1331.3,1405.75) rotate(-90) scale(0.95,1)" text-anchor="middle" fill="#000" stroke="#000" class="lab" letter-spacing="2.84">W</text>
<g><clipPath id="c1257_1717"><rect x="1257" y="1717.6" width="34.7" height="200"/></clipPath>
<rect x="1257.6" y="1717.6" width="33.5" height="200" fill="#a8663f"/>
<path clip-path="url(#c1257_1717)" d="M1257.6,1682.1L1291.1,1694.71M1257.6,1715.2L1291.1,1727.81M1257.6,1748.3L1291.1,1760.91M1257.6,1781.4L1291.1,1794.01M1257.6,1814.5L1291.1,1827.11M1257.6,1847.6L1291.1,1860.21M1257.6,1880.7L1291.1,1893.31M1257.6,1913.8L1291.1,1926.41M1257.6,1946.9L1291.1,1959.51" stroke="#000" stroke-width="4" fill="none"/>
<rect x="1257.6" y="1717.6" width="33.5" height="200" fill="none" stroke="#000" stroke-width="4"/>
<path clip-path="url(#c1257_1717)" d="M1257,1685.5L1291.7,1698.11M1257,1718.6L1291.7,1731.21M1257,1751.7L1291.7,1764.31M1257,1784.8L1291.7,1797.41M1257,1817.9L1291.7,1830.51M1257,1851L1291.7,1863.61M1257,1884.1L1291.7,1896.71M1257,1917.2L1291.7,1929.81M1257,1950.3L1291.7,1962.91" stroke="#fff" stroke-width="2.8" fill="none"/></g>
<text transform="translate(1243.2,1817.55) rotate(-90) scale(0.95,1)" text-anchor="middle" fill="#000" stroke="#000" class="lab" letter-spacing="2.84">p4 (5)</text>
<text transform="translate(1331.3,1807.85) rotate(-90) scale(0.95,1)" text-anchor="middle" fill="#000" stroke="#000" class="lab" letter-spacing="2.84">AB</text>
<g><clipPath id="c1257_2117"><rect x="1257" y="2117.6" width="34.7" height="200"/></clipPath>
<rect x="1257.6" y="2117.6" width="33.5" height="200" fill="#f3f3f3"/>
<path clip-path="url(#c1257_2117)" d="M1257.6,2082.1L1291.1,2094.71M1257.6,2115.2L1291.1,2127.81M1257.6,2148.3L1291.1,2160.91M1257.6,2181.4L1291.1,2194.01M1257.6,2214.5L1291.1,2227.11M1257.6,2247.6L1291.1,2260.21M1257.6,2280.7L1291.1,2293.31M1257.6,2313.8L1291.1,2326.41M1257.6,2346.9L1291.1,2359.51" stroke="#000" stroke-width="4" fill="none"/>
<rect x="1257.6" y="2117.6" width="33.5" height="200" fill="none" stroke="#000" stroke-width="4"/>
<path clip-path="url(#c1257_2117)" d="M1257,2085.5L1291.7,2098.11M1257,2118.6L1291.7,2131.21M1257,2151.7L1291.7,2164.31M1257,2184.8L1291.7,2197.41M1257,2217.9L1291.7,2230.51M1257,2251L1291.7,2263.61M1257,2284.1L1291.7,2296.71M1257,2317.2L1291.7,2329.81M1257,2350.3L1291.7,2362.91" stroke="#fff" stroke-width="2.8" fill="none"/></g>
<text transform="translate(1243.2,2217.55) rotate(-90) scale(0.95,1)" text-anchor="middle" fill="#000" stroke="#000" class="lab" letter-spacing="2.84">p5 (4)</text>
<text transform="translate(1331.3,2205.75) rotate(-90) scale(0.95,1)" text-anchor="middle" fill="#000" stroke="#000" class="lab" letter-spacing="2.84">W</text>
<rect x="1638.35" y="517.6" width="186" height="200" fill="#fffff7" fill-opacity="0.62"/>
<rect x="1778.35" y="517.6" width="46" height="200" fill="#c81982" fill-opacity="0.75"/>
<g><clipPath id="c1691_517"><rect x="1691.15" y="517.6" width="34.2" height="200"/></clipPath>
<rect x="1691.75" y="517.6" width="33" height="200" fill="#f3f3f3"/>
<path clip-path="url(#c1691_517)" d="M1691.75,482.1L1724.75,494.52M1691.75,515.2L1724.75,527.62M1691.75,548.3L1724.75,560.72M1691.75,581.4L1724.75,593.82M1691.75,614.5L1724.75,626.92M1691.75,647.6L1724.75,660.02M1691.75,680.7L1724.75,693.12M1691.75,713.8L1724.75,726.22M1691.75,746.9L1724.75,759.32" stroke="#000" stroke-width="4" fill="none"/>
<rect x="1691.75" y="517.6" width="33" height="200" fill="none" stroke="#000" stroke-width="4"/>
<path clip-path="url(#c1691_517)" d="M1691.15,485.5L1725.35,497.92M1691.15,518.6L1725.35,531.02M1691.15,551.7L1725.35,564.12M1691.15,584.8L1725.35,597.22M1691.15,617.9L1725.35,630.32M1691.15,651L1725.35,663.42M1691.15,684.1L1725.35,696.52M1691.15,717.2L1725.35,729.62M1691.15,750.3L1725.35,762.72" stroke="#fff" stroke-width="2.8" fill="none"/></g>
<line x1="1778.35" y1="517.6" x2="1778.35" y2="717.6" stroke="#000" stroke-width="4"/>
<rect x="1638.35" y="517.6" width="186" height="200" fill="none" stroke="#000" stroke-width="4"/>
<text transform="translate(1814.15,615.9) rotate(-90) scale(1.0,1)" text-anchor="middle" fill="#fff" stroke="#fff" class="lab" letter-spacing="2.40"><tspan class="arr">→</tspan>p29</text>
<text transform="translate(1676.65,617.55) rotate(-90) scale(0.95,1)" text-anchor="middle" fill="#000" stroke="#000" class="lab" letter-spacing="2.84">p1 (17)</text>
<text transform="translate(1764.75,605.75) rotate(-90) scale(0.95,1)" text-anchor="middle" fill="#000" stroke="#000" class="lab" letter-spacing="2.84">W</text>
<g><clipPath id="c1691_917"><rect x="1690.45" y="917.6" width="34.7" height="200"/></clipPath>
<rect x="1691.05" y="917.6" width="33.5" height="200" fill="#a8663f"/>
<path clip-path="url(#c1691_917)" d="M1691.05,882.1L1724.55,894.71M1691.05,915.2L1724.55,927.81M1691.05,948.3L1724.55,960.91M1691.05,981.4L1724.55,994.01M1691.05,1014.5L1724.55,1027.11M1691.05,1047.6L1724.55,1060.21M1691.05,1080.7L1724.55,1093.31M1691.05,1113.8L1724.55,1126.41M1691.05,1146.9L1724.55,1159.51" stroke="#000" stroke-width="4" fill="none"/>
<rect x="1691.05" y="917.6" width="33.5" height="200" fill="none" stroke="#000" stroke-width="4"/>
<path clip-path="url(#c1691_917)" d="M1690.45,885.5L1725.15,898.11M1690.45,918.6L1725.15,931.21M1690.45,951.7L1725.15,964.31M1690.45,984.8L1725.15,997.41M1690.45,1017.9L1725.15,1030.51M1690.45,1051L1725.15,1063.61M1690.45,1084.1L1725.15,1096.71M1690.45,1117.2L1725.15,1129.81M1690.45,1150.3L1725.15,1162.91" stroke="#fff" stroke-width="2.8" fill="none"/></g>
<text transform="translate(1676.65,1017.55) rotate(-90) scale(0.95,1)" text-anchor="middle" fill="#000" stroke="#000" class="lab" letter-spacing="2.84">p2 (2)</text>
<text transform="translate(1764.75,1007.85) rotate(-90) scale(0.95,1)" text-anchor="middle" fill="#000" stroke="#000" class="lab" letter-spacing="2.84">AB</text>
<g><clipPath id="c1691_1317"><rect x="1690.45" y="1317.6" width="34.7" height="200"/></clipPath>
<rect x="1691.05" y="1317.6" width="33.5" height="200" fill="#f3f3f3"/>
<path clip-path="url(#c1691_1317)" d="M1691.05,1282.1L1724.55,1294.71M1691.05,1315.2L1724.55,1327.81M1691.05,1348.3L1724.55,1360.91M1691.05,1381.4L1724.55,1394.01M1691.05,1414.5L1724.55,1427.11M1691.05,1447.6L1724.55,1460.21M1691.05,1480.7L1724.55,1493.31M1691.05,1513.8L1724.55,1526.41M1691.05,1546.9L1724.55,1559.51" stroke="#000" stroke-width="4" fill="none"/>
<rect x="1691.05" y="1317.6" width="33.5" height="200" fill="none" stroke="#000" stroke-width="4"/>
<path clip-path="url(#c1691_1317)" d="M1690.45,1285.5L1725.15,1298.11M1690.45,1318.6L1725.15,1331.21M1690.45,1351.7L1725.15,1364.31M1690.45,1384.8L1725.15,1397.41M1690.45,1417.9L1725.15,1430.51M1690.45,1451L1725.15,1463.61M1690.45,1484.1L1725.15,1496.71M1690.45,1517.2L1725.15,1529.81M1690.45,1550.3L1725.15,1562.91" stroke="#fff" stroke-width="2.8" fill="none"/></g>
<text transform="translate(1676.65,1417.55) rotate(-90) scale(0.95,1)" text-anchor="middle" fill="#000" stroke="#000" class="lab" letter-spacing="2.84">p3 (3)</text>
<text transform="translate(1764.75,1405.75) rotate(-90) scale(0.95,1)" text-anchor="middle" fill="#000" stroke="#000" class="lab" letter-spacing="2.84">W</text>
<g><clipPath id="c1691_1717"><rect x="1690.45" y="1717.6" width="34.7" height="200"/></clipPath>
<rect x="1691.05" y="1717.6" width="33.5" height="200" fill="#a8663f"/>
<path clip-path="url(#c1691_1717)" d="M1691.05,1682.1L1724.55,1694.71M1691.05,1715.2L1724.55,1727.81M1691.05,1748.3L1724.55,1760.91M1691.05,1781.4L1724.55,1794.01M1691.05,1814.5L1724.55,1827.11M1691.05,1847.6L1724.55,1860.21M1691.05,1880.7L1724.55,1893.31M1691.05,1913.8L1724.55,1926.41M1691.05,1946.9L1724.55,1959.51" stroke="#000" stroke-width="4" fill="none"/>
<rect x="1691.05" y="1717.6" width="33.5" height="200" fill="none" stroke="#000" stroke-width="4"/>
<path clip-path="url(#c1691_1717)" d="M1690.45,1685.5L1725.15,1698.11M1690.45,1718.6L1725.15,1731.21M1690.45,1751.7L1725.15,1764.31M1690.45,1784.8L1725.15,1797.41M1690.45,1817.9L1725.15,1830.51M1690.45,1851L1725.15,1863.61M1690.45,1884.1L1725.15,1896.71M1690.45,1917.2L1725.15,1929.81M1690.45,1950.3L1725.15,1962.91" stroke="#fff" stroke-width="2.8" fill="none"/></g>
<text transform="translate(1676.65,1817.55) rotate(-90) scale(0.95,1)" text-anchor="middle" fill="#000" stroke="#000" class="lab" letter-spacing="2.84">p4 (3)</text>
<text transform="translate(1764.75,1807.85) rotate(-90) scale(0.95,1)" text-anchor="middle" fill="#000" stroke="#000" class="lab" letter-spacing="2.84">AB</text>
<g><clipPath id="c1691_2117"><rect x="1690.45" y="2117.6" width="34.7" height="200"/></clipPath>
<rect x="1691.05" y="2117.6" width="33.5" height="200" fill="#f3f3f3"/>
<path clip-path="url(#c1691_2117)" d="M1691.05,2082.1L1724.55,2094.71M1691.05,2115.2L1724.55,2127.81M1691.05,2148.3L1724.55,2160.91M1691.05,2181.4L1724.55,2194.01M1691.05,2214.5L1724.55,2227.11M1691.05,2247.6L1724.55,2260.21M1691.05,2280.7L1724.55,2293.31M1691.05,2313.8L1724.55,2326.41M1691.05,2346.9L1724.55,2359.51" stroke="#000" stroke-width="4" fill="none"/>
<rect x="1691.05" y="2117.6" width="33.5" height="200" fill="none" stroke="#000" stroke-width="4"/>
<path clip-path="url(#c1691_2117)" d="M1690.45,2085.5L1725.15,2098.11M1690.45,2118.6L1725.15,2131.21M1690.45,2151.7L1725.15,2164.31M1690.45,2184.8L1725.15,2197.41M1690.45,2217.9L1725.15,2230.51M1690.45,2251L1725.15,2263.61M1690.45,2284.1L1725.15,2296.71M1690.45,2317.2L1725.15,2329.81M1690.45,2350.3L1725.15,2362.91" stroke="#fff" stroke-width="2.8" fill="none"/></g>
<text transform="translate(1676.65,2217.55) rotate(-90) scale(0.95,1)" text-anchor="middle" fill="#000" stroke="#000" class="lab" letter-spacing="2.84">p5 (2)</text>
<text transform="translate(1764.75,2205.75) rotate(-90) scale(0.95,1)" text-anchor="middle" fill="#000" stroke="#000" class="lab" letter-spacing="2.84">W</text>
<g><clipPath id="c1691_2517"><rect x="1690.45" y="2517.6" width="34.7" height="200"/></clipPath>
<rect x="1691.05" y="2517.6" width="33.5" height="200" fill="#6b3a22"/>
<path clip-path="url(#c1691_2517)" d="M1691.05,2482.1L1724.55,2494.71M1691.05,2515.2L1724.55,2527.81M1691.05,2548.3L1724.55,2560.91M1691.05,2581.4L1724.55,2594.01M1691.05,2614.5L1724.55,2627.11M1691.05,2647.6L1724.55,2660.21M1691.05,2680.7L1724.55,2693.31M1691.05,2713.8L1724.55,2726.41M1691.05,2746.9L1724.55,2759.51" stroke="#000" stroke-width="4" fill="none"/>
<rect x="1691.05" y="2517.6" width="33.5" height="200" fill="none" stroke="#000" stroke-width="4"/>
<path clip-path="url(#c1691_2517)" d="M1690.45,2485.5L1725.15,2498.11M1690.45,2518.6L1725.15,2531.21M1690.45,2551.7L1725.15,2564.31M1690.45,2584.8L1725.15,2597.41M1690.45,2617.9L1725.15,2630.51M1690.45,2651L1725.15,2663.61M1690.45,2684.1L1725.15,2696.71M1690.45,2717.2L1725.15,2729.81M1690.45,2750.3L1725.15,2762.91" stroke="#fff" stroke-width="2.8" fill="none"/></g>
<text transform="translate(1676.65,2617.55) rotate(-90) scale(0.95,1)" text-anchor="middle" fill="#000" stroke="#000" class="lab" letter-spacing="2.84">p6 (1)</text>
<text transform="translate(1764.75,2605.75) rotate(-90) scale(0.95,1)" text-anchor="middle" fill="#000" stroke="#000" class="lab" letter-spacing="2.84">MB</text>
<rect x="2071.8" y="517.6" width="186" height="200" fill="#fffff7" fill-opacity="0.62"/>
<rect x="2211.8" y="517.6" width="46" height="200" fill="#7d73fa" fill-opacity="0.75"/>
<g><clipPath id="c2125_517"><rect x="2124.6" y="517.6" width="34.2" height="200"/></clipPath>
<rect x="2125.2" y="517.6" width="33" height="200" fill="#f3f3f3"/>
<path clip-path="url(#c2125_517)" d="M2125.2,482.1L2158.2,494.52M2125.2,515.2L2158.2,527.62M2125.2,548.3L2158.2,560.72M2125.2,581.4L2158.2,593.82M2125.2,614.5L2158.2,626.92M2125.2,647.6L2158.2,660.02M2125.2,680.7L2158.2,693.12M2125.2,713.8L2158.2,726.22M2125.2,746.9L2158.2,759.32" stroke="#000" stroke-width="4" fill="none"/>
<rect x="2125.2" y="517.6" width="33" height="200" fill="none" stroke="#000" stroke-width="4"/>
<path clip-path="url(#c2125_517)" d="M2124.6,485.5L2158.8,497.92M2124.6,518.6L2158.8,531.02M2124.6,551.7L2158.8,564.12M2124.6,584.8L2158.8,597.22M2124.6,617.9L2158.8,630.32M2124.6,651L2158.8,663.42M2124.6,684.1L2158.8,696.52M2124.6,717.2L2158.8,729.62M2124.6,750.3L2158.8,762.72" stroke="#fff" stroke-width="2.8" fill="none"/></g>
<line x1="2211.8" y1="517.6" x2="2211.8" y2="717.6" stroke="#000" stroke-width="4"/>
<rect x="2071.8" y="517.6" width="186" height="200" fill="none" stroke="#000" stroke-width="4"/>
<text transform="translate(2247.6,615.9) rotate(-90) scale(1.0,1)" text-anchor="middle" fill="#fff" stroke="#fff" class="lab" letter-spacing="2.40"><tspan class="arr">→</tspan>p27</text>
<text transform="translate(2110.1,617.55) rotate(-90) scale(0.95,1)" text-anchor="middle" fill="#000" stroke="#000" class="lab" letter-spacing="2.84">p1 (25)</text>
<text transform="translate(2198.2,605.75) rotate(-90) scale(0.95,1)" text-anchor="middle" fill="#000" stroke="#000" class="lab" letter-spacing="2.84">W</text>
<g><clipPath id="c2124_917"><rect x="2123.9" y="917.6" width="34.7" height="200"/></clipPath>
<rect x="2124.5" y="917.6" width="33.5" height="200" fill="#6b3a22"/>
<path clip-path="url(#c2124_917)" d="M2124.5,882.1L2158,894.71M2124.5,915.2L2158,927.81M2124.5,948.3L2158,960.91M2124.5,981.4L2158,994.01M2124.5,1014.5L2158,1027.11M2124.5,1047.6L2158,1060.21M2124.5,1080.7L2158,1093.31M2124.5,1113.8L2158,1126.41M2124.5,1146.9L2158,1159.51" stroke="#000" stroke-width="4" fill="none"/>
<rect x="2124.5" y="917.6" width="33.5" height="200" fill="none" stroke="#000" stroke-width="4"/>
<path clip-path="url(#c2124_917)" d="M2123.9,885.5L2158.6,898.11M2123.9,918.6L2158.6,931.21M2123.9,951.7L2158.6,964.31M2123.9,984.8L2158.6,997.41M2123.9,1017.9L2158.6,1030.51M2123.9,1051L2158.6,1063.61M2123.9,1084.1L2158.6,1096.71M2123.9,1117.2L2158.6,1129.81M2123.9,1150.3L2158.6,1162.91" stroke="#fff" stroke-width="2.8" fill="none"/></g>
<text transform="translate(2110.1,1017.55) rotate(-90) scale(0.95,1)" text-anchor="middle" fill="#000" stroke="#000" class="lab" letter-spacing="2.84">p2 (10)</text>
<text transform="translate(2198.2,1005.75) rotate(-90) scale(0.95,1)" text-anchor="middle" fill="#000" stroke="#000" class="lab" letter-spacing="2.84">MB</text>
<g><clipPath id="c2124_1317"><rect x="2123.9" y="1317.6" width="34.7" height="200"/></clipPath>
<rect x="2124.5" y="1317.6" width="33.5" height="200" fill="#f3f3f3"/>
<path clip-path="url(#c2124_1317)" d="M2124.5,1282.1L2158,1294.71M2124.5,1315.2L2158,1327.81M2124.5,1348.3L2158,1360.91M2124.5,1381.4L2158,1394.01M2124.5,1414.5L2158,1427.11M2124.5,1447.6L2158,1460.21M2124.5,1480.7L2158,1493.31M2124.5,1513.8L2158,1526.41M2124.5,1546.9L2158,1559.51" stroke="#000" stroke-width="4" fill="none"/>
<rect x="2124.5" y="1317.6" width="33.5" height="200" fill="none" stroke="#000" stroke-width="4"/>
<path clip-path="url(#c2124_1317)" d="M2123.9,1285.5L2158.6,1298.11M2123.9,1318.6L2158.6,1331.21M2123.9,1351.7L2158.6,1364.31M2123.9,1384.8L2158.6,1397.41M2123.9,1417.9L2158.6,1430.51M2123.9,1451L2158.6,1463.61M2123.9,1484.1L2158.6,1496.71M2123.9,1517.2L2158.6,1529.81M2123.9,1550.3L2158.6,1562.91" stroke="#fff" stroke-width="2.8" fill="none"/></g>
<text transform="translate(2110.1,1417.55) rotate(-90) scale(0.95,1)" text-anchor="middle" fill="#000" stroke="#000" class="lab" letter-spacing="2.84">p3 (3)</text>
<text transform="translate(2198.2,1405.75) rotate(-90) scale(0.95,1)" text-anchor="middle" fill="#000" stroke="#000" class="lab" letter-spacing="2.84">W</text>
<g><clipPath id="c2124_1717"><rect x="2123.9" y="1717.6" width="34.7" height="200"/></clipPath>
<rect x="2124.5" y="1717.6" width="33.5" height="200" fill="#6b3a22"/>
<path clip-path="url(#c2124_1717)" d="M2124.5,1682.1L2158,1694.71M2124.5,1715.2L2158,1727.81M2124.5,1748.3L2158,1760.91M2124.5,1781.4L2158,1794.01M2124.5,1814.5L2158,1827.11M2124.5,1847.6L2158,1860.21M2124.5,1880.7L2158,1893.31M2124.5,1913.8L2158,1926.41M2124.5,1946.9L2158,1959.51" stroke="#000" stroke-width="4" fill="none"/>
<rect x="2124.5" y="1717.6" width="33.5" height="200" fill="none" stroke="#000" stroke-width="4"/>
<path clip-path="url(#c2124_1717)" d="M2123.9,1685.5L2158.6,1698.11M2123.9,1718.6L2158.6,1731.21M2123.9,1751.7L2158.6,1764.31M2123.9,1784.8L2158.6,1797.41M2123.9,1817.9L2158.6,1830.51M2123.9,1851L2158.6,1863.61M2123.9,1884.1L2158.6,1896.71M2123.9,1917.2L2158.6,1929.81M2123.9,1950.3L2158.6,1962.91" stroke="#fff" stroke-width="2.8" fill="none"/></g>
<text transform="translate(2110.1,1817.55) rotate(-90) scale(0.95,1)" text-anchor="middle" fill="#000" stroke="#000" class="lab" letter-spacing="2.84">p4 (5)</text>
<text transform="translate(2198.2,1805.75) rotate(-90) scale(0.95,1)" text-anchor="middle" fill="#000" stroke="#000" class="lab" letter-spacing="2.84">MB</text>
<g><clipPath id="c2124_2117"><rect x="2123.9" y="2117.6" width="34.7" height="200"/></clipPath>
<rect x="2124.5" y="2117.6" width="33.5" height="200" fill="#f3f3f3"/>
<path clip-path="url(#c2124_2117)" d="M2124.5,2082.1L2158,2094.71M2124.5,2115.2L2158,2127.81M2124.5,2148.3L2158,2160.91M2124.5,2181.4L2158,2194.01M2124.5,2214.5L2158,2227.11M2124.5,2247.6L2158,2260.21M2124.5,2280.7L2158,2293.31M2124.5,2313.8L2158,2326.41M2124.5,2346.9L2158,2359.51" stroke="#000" stroke-width="4" fill="none"/>
<rect x="2124.5" y="2117.6" width="33.5" height="200" fill="none" stroke="#000" stroke-width="4"/>
<path clip-path="url(#c2124_2117)" d="M2123.9,2085.5L2158.6,2098.11M2123.9,2118.6L2158.6,2131.21M2123.9,2151.7L2158.6,2164.31M2123.9,2184.8L2158.6,2197.41M2123.9,2217.9L2158.6,2230.51M2123.9,2251L2158.6,2263.61M2123.9,2284.1L2158.6,2296.71M2123.9,2317.2L2158.6,2329.81M2123.9,2350.3L2158.6,2362.91" stroke="#fff" stroke-width="2.8" fill="none"/></g>
<text transform="translate(2110.1,2217.55) rotate(-90) scale(0.95,1)" text-anchor="middle" fill="#000" stroke="#000" class="lab" letter-spacing="2.84">p5 (6)</text>
<text transform="translate(2198.2,2205.75) rotate(-90) scale(0.95,1)" text-anchor="middle" fill="#000" stroke="#000" class="lab" letter-spacing="2.84">W</text>
<g><clipPath id="c2124_2517"><rect x="2123.9" y="2517.6" width="34.7" height="200"/></clipPath>
<rect x="2124.5" y="2517.6" width="33.5" height="200" fill="#6b3a22"/>
<path clip-path="url(#c2124_2517)" d="M2124.5,2482.1L2158,2494.71M2124.5,2515.2L2158,2527.81M2124.5,2548.3L2158,2560.91M2124.5,2581.4L2158,2594.01M2124.5,2614.5L2158,2627.11M2124.5,2647.6L2158,2660.21M2124.5,2680.7L2158,2693.31M2124.5,2713.8L2158,2726.41M2124.5,2746.9L2158,2759.51" stroke="#000" stroke-width="4" fill="none"/>
<rect x="2124.5" y="2517.6" width="33.5" height="200" fill="none" stroke="#000" stroke-width="4"/>
<path clip-path="url(#c2124_2517)" d="M2123.9,2485.5L2158.6,2498.11M2123.9,2518.6L2158.6,2531.21M2123.9,2551.7L2158.6,2564.31M2123.9,2584.8L2158.6,2597.41M2123.9,2617.9L2158.6,2630.51M2123.9,2651L2158.6,2663.61M2123.9,2684.1L2158.6,2696.71M2123.9,2717.2L2158.6,2729.81M2123.9,2750.3L2158.6,2762.91" stroke="#fff" stroke-width="2.8" fill="none"/></g>
<text transform="translate(2110.1,2617.55) rotate(-90) scale(0.95,1)" text-anchor="middle" fill="#000" stroke="#000" class="lab" letter-spacing="2.84">p6 (2)</text>
<text transform="translate(2198.2,2605.75) rotate(-90) scale(0.95,1)" text-anchor="middle" fill="#000" stroke="#000" class="lab" letter-spacing="2.84">MB</text>
<g><clipPath id="c2557_517"><rect x="2557.35" y="517.6" width="34.7" height="200"/></clipPath>
<rect x="2557.95" y="517.6" width="33.5" height="200" fill="#f3f3f3"/>
<path clip-path="url(#c2557_517)" d="M2557.95,482.1L2591.45,494.71M2557.95,515.2L2591.45,527.81M2557.95,548.3L2591.45,560.91M2557.95,581.4L2591.45,594.01M2557.95,614.5L2591.45,627.11M2557.95,647.6L2591.45,660.21M2557.95,680.7L2591.45,693.31M2557.95,713.8L2591.45,726.41M2557.95,746.9L2591.45,759.51" stroke="#000" stroke-width="4" fill="none"/>
<rect x="2557.95" y="517.6" width="33.5" height="200" fill="none" stroke="#000" stroke-width="4"/>
<path clip-path="url(#c2557_517)" d="M2557.35,485.5L2592.05,498.11M2557.35,518.6L2592.05,531.21M2557.35,551.7L2592.05,564.31M2557.35,584.8L2592.05,597.41M2557.35,617.9L2592.05,630.51M2557.35,651L2592.05,663.61M2557.35,684.1L2592.05,696.71M2557.35,717.2L2592.05,729.81M2557.35,750.3L2592.05,762.91" stroke="#fff" stroke-width="2.8" fill="none"/></g>
<text transform="translate(2543.55,617.55) rotate(-90) scale(0.95,1)" text-anchor="middle" fill="#000" stroke="#000" class="lab" letter-spacing="2.84">p1 (22)</text>
<text transform="translate(2631.65,605.75) rotate(-90) scale(0.95,1)" text-anchor="middle" fill="#000" stroke="#000" class="lab" letter-spacing="2.84">W</text>
<g><clipPath id="c2557_917"><rect x="2557.35" y="917.6" width="34.7" height="200"/></clipPath>
<rect x="2557.95" y="917.6" width="33.5" height="200" fill="#6b3a22"/>
<path clip-path="url(#c2557_917)" d="M2557.95,882.1L2591.45,894.71M2557.95,915.2L2591.45,927.81M2557.95,948.3L2591.45,960.91M2557.95,981.4L2591.45,994.01M2557.95,1014.5L2591.45,1027.11M2557.95,1047.6L2591.45,1060.21M2557.95,1080.7L2591.45,1093.31M2557.95,1113.8L2591.45,1126.41M2557.95,1146.9L2591.45,1159.51" stroke="#000" stroke-width="4" fill="none"/>
<rect x="2557.95" y="917.6" width="33.5" height="200" fill="none" stroke="#000" stroke-width="4"/>
<path clip-path="url(#c2557_917)" d="M2557.35,885.5L2592.05,898.11M2557.35,918.6L2592.05,931.21M2557.35,951.7L2592.05,964.31M2557.35,984.8L2592.05,997.41M2557.35,1017.9L2592.05,1030.51M2557.35,1051L2592.05,1063.61M2557.35,1084.1L2592.05,1096.71M2557.35,1117.2L2592.05,1129.81M2557.35,1150.3L2592.05,1162.91" stroke="#fff" stroke-width="2.8" fill="none"/></g>
<text transform="translate(2543.55,1017.55) rotate(-90) scale(0.95,1)" text-anchor="middle" fill="#000" stroke="#000" class="lab" letter-spacing="2.84">p2 (3)</text>
<text transform="translate(2631.65,1005.75) rotate(-90) scale(0.95,1)" text-anchor="middle" fill="#000" stroke="#000" class="lab" letter-spacing="2.84">MB</text>
<g><clipPath id="c2557_1317"><rect x="2557.35" y="1317.6" width="34.7" height="200"/></clipPath>
<rect x="2557.95" y="1317.6" width="33.5" height="200" fill="#f3f3f3"/>
<path clip-path="url(#c2557_1317)" d="M2557.95,1282.1L2591.45,1294.71M2557.95,1315.2L2591.45,1327.81M2557.95,1348.3L2591.45,1360.91M2557.95,1381.4L2591.45,1394.01M2557.95,1414.5L2591.45,1427.11M2557.95,1447.6L2591.45,1460.21M2557.95,1480.7L2591.45,1493.31M2557.95,1513.8L2591.45,1526.41M2557.95,1546.9L2591.45,1559.51" stroke="#000" stroke-width="4" fill="none"/>
<rect x="2557.95" y="1317.6" width="33.5" height="200" fill="none" stroke="#000" stroke-width="4"/>
<path clip-path="url(#c2557_1317)" d="M2557.35,1285.5L2592.05,1298.11M2557.35,1318.6L2592.05,1331.21M2557.35,1351.7L2592.05,1364.31M2557.35,1384.8L2592.05,1397.41M2557.35,1417.9L2592.05,1430.51M2557.35,1451L2592.05,1463.61M2557.35,1484.1L2592.05,1496.71M2557.35,1517.2L2592.05,1529.81M2557.35,1550.3L2592.05,1562.91" stroke="#fff" stroke-width="2.8" fill="none"/></g>
<text transform="translate(2543.55,1417.55) rotate(-90) scale(0.95,1)" text-anchor="middle" fill="#000" stroke="#000" class="lab" letter-spacing="2.84">p3 (8)</text>
<text transform="translate(2631.65,1405.75) rotate(-90) scale(0.95,1)" text-anchor="middle" fill="#000" stroke="#000" class="lab" letter-spacing="2.84">W</text>
<g><clipPath id="c2557_1717"><rect x="2557.35" y="1717.6" width="34.7" height="200"/></clipPath>
<rect x="2557.95" y="1717.6" width="33.5" height="200" fill="#6b3a22"/>
<path clip-path="url(#c2557_1717)" d="M2557.95,1682.1L2591.45,1694.71M2557.95,1715.2L2591.45,1727.81M2557.95,1748.3L2591.45,1760.91M2557.95,1781.4L2591.45,1794.01M2557.95,1814.5L2591.45,1827.11M2557.95,1847.6L2591.45,1860.21M2557.95,1880.7L2591.45,1893.31M2557.95,1913.8L2591.45,1926.41M2557.95,1946.9L2591.45,1959.51" stroke="#000" stroke-width="4" fill="none"/>
<rect x="2557.95" y="1717.6" width="33.5" height="200" fill="none" stroke="#000" stroke-width="4"/>
<path clip-path="url(#c2557_1717)" d="M2557.35,1685.5L2592.05,1698.11M2557.35,1718.6L2592.05,1731.21M2557.35,1751.7L2592.05,1764.31M2557.35,1784.8L2592.05,1797.41M2557.35,1817.9L2592.05,1830.51M2557.35,1851L2592.05,1863.61M2557.35,1884.1L2592.05,1896.71M2557.35,1917.2L2592.05,1929.81M2557.35,1950.3L2592.05,1962.91" stroke="#fff" stroke-width="2.8" fill="none"/></g>
<text transform="translate(2543.55,1817.55) rotate(-90) scale(0.95,1)" text-anchor="middle" fill="#000" stroke="#000" class="lab" letter-spacing="2.84">p4 (5)</text>
<text transform="translate(2631.65,1805.75) rotate(-90) scale(0.95,1)" text-anchor="middle" fill="#000" stroke="#000" class="lab" letter-spacing="2.84">MB</text>
<g><clipPath id="c2557_2117"><rect x="2557.35" y="2117.6" width="34.7" height="200"/></clipPath>
<rect x="2557.95" y="2117.6" width="33.5" height="200" fill="#a8663f"/>
<path clip-path="url(#c2557_2117)" d="M2557.95,2082.1L2591.45,2094.71M2557.95,2115.2L2591.45,2127.81M2557.95,2148.3L2591.45,2160.91M2557.95,2181.4L2591.45,2194.01M2557.95,2214.5L2591.45,2227.11M2557.95,2247.6L2591.45,2260.21M2557.95,2280.7L2591.45,2293.31M2557.95,2313.8L2591.45,2326.41M2557.95,2346.9L2591.45,2359.51" stroke="#000" stroke-width="4" fill="none"/>
<rect x="2557.95" y="2117.6" width="33.5" height="200" fill="none" stroke="#000" stroke-width="4"/>
<path clip-path="url(#c2557_2117)" d="M2557.35,2085.5L2592.05,2098.11M2557.35,2118.6L2592.05,2131.21M2557.35,2151.7L2592.05,2164.31M2557.35,2184.8L2592.05,2197.41M2557.35,2217.9L2592.05,2230.51M2557.35,2251L2592.05,2263.61M2557.35,2284.1L2592.05,2296.71M2557.35,2317.2L2592.05,2329.81M2557.35,2350.3L2592.05,2362.91" stroke="#fff" stroke-width="2.8" fill="none"/></g>
<text transform="translate(2543.55,2217.55) rotate(-90) scale(0.95,1)" text-anchor="middle" fill="#000" stroke="#000" class="lab" letter-spacing="2.84">p5 (4)</text>
<text transform="translate(2631.65,2207.85) rotate(-90) scale(0.95,1)" text-anchor="middle" fill="#000" stroke="#000" class="lab" letter-spacing="2.84">AB</text>
<g><clipPath id="c2557_2517"><rect x="2557.35" y="2517.6" width="34.7" height="200"/></clipPath>
<rect x="2557.95" y="2517.6" width="33.5" height="200" fill="#6b3a22"/>
<path clip-path="url(#c2557_2517)" d="M2557.95,2482.1L2591.45,2494.71M2557.95,2515.2L2591.45,2527.81M2557.95,2548.3L2591.45,2560.91M2557.95,2581.4L2591.45,2594.01M2557.95,2614.5L2591.45,2627.11M2557.95,2647.6L2591.45,2660.21M2557.95,2680.7L2591.45,2693.31M2557.95,2713.8L2591.45,2726.41M2557.95,2746.9L2591.45,2759.51" stroke="#000" stroke-width="4" fill="none"/>
<rect x="2557.95" y="2517.6" width="33.5" height="200" fill="none" stroke="#000" stroke-width="4"/>
<path clip-path="url(#c2557_2517)" d="M2557.35,2485.5L2592.05,2498.11M2557.35,2518.6L2592.05,2531.21M2557.35,2551.7L2592.05,2564.31M2557.35,2584.8L2592.05,2597.41M2557.35,2617.9L2592.05,2630.51M2557.35,2651L2592.05,2663.61M2557.35,2684.1L2592.05,2696.71M2557.35,2717.2L2592.05,2729.81M2557.35,2750.3L2592.05,2762.91" stroke="#fff" stroke-width="2.8" fill="none"/></g>
<text transform="translate(2543.55,2617.55) rotate(-90) scale(0.95,1)" text-anchor="middle" fill="#000" stroke="#000" class="lab" letter-spacing="2.84">p6 (10)</text>
<text transform="translate(2631.65,2605.75) rotate(-90) scale(0.95,1)" text-anchor="middle" fill="#000" stroke="#000" class="lab" letter-spacing="2.84">MB</text>
<g><clipPath id="c2991_517"><rect x="2990.8" y="517.6" width="34.7" height="200"/></clipPath>
<rect x="2991.4" y="517.6" width="33.5" height="200" fill="#f3f3f3"/>
<path clip-path="url(#c2991_517)" d="M2991.4,482.1L3024.9,494.71M2991.4,515.2L3024.9,527.81M2991.4,548.3L3024.9,560.91M2991.4,581.4L3024.9,594.01M2991.4,614.5L3024.9,627.11M2991.4,647.6L3024.9,660.21M2991.4,680.7L3024.9,693.31M2991.4,713.8L3024.9,726.41M2991.4,746.9L3024.9,759.51" stroke="#000" stroke-width="4" fill="none"/>
<rect x="2991.4" y="517.6" width="33.5" height="200" fill="none" stroke="#000" stroke-width="4"/>
<path clip-path="url(#c2991_517)" d="M2990.8,485.5L3025.5,498.11M2990.8,518.6L3025.5,531.21M2990.8,551.7L3025.5,564.31M2990.8,584.8L3025.5,597.41M2990.8,617.9L3025.5,630.51M2990.8,651L3025.5,663.61M2990.8,684.1L3025.5,696.71M2990.8,717.2L3025.5,729.81M2990.8,750.3L3025.5,762.91" stroke="#fff" stroke-width="2.8" fill="none"/></g>
<text transform="translate(2977,617.55) rotate(-90) scale(0.95,1)" text-anchor="middle" fill="#000" stroke="#000" class="lab" letter-spacing="2.84">p1 (16)</text>
<text transform="translate(3065.1,605.75) rotate(-90) scale(0.95,1)" text-anchor="middle" fill="#000" stroke="#000" class="lab" letter-spacing="2.84">W</text>
<g><clipPath id="c2991_917"><rect x="2990.8" y="917.6" width="34.7" height="200"/></clipPath>
<rect x="2991.4" y="917.6" width="33.5" height="200" fill="#a8663f"/>
<path clip-path="url(#c2991_917)" d="M2991.4,882.1L3024.9,894.71M2991.4,915.2L3024.9,927.81M2991.4,948.3L3024.9,960.91M2991.4,981.4L3024.9,994.01M2991.4,1014.5L3024.9,1027.11M2991.4,1047.6L3024.9,1060.21M2991.4,1080.7L3024.9,1093.31M2991.4,1113.8L3024.9,1126.41M2991.4,1146.9L3024.9,1159.51" stroke="#000" stroke-width="4" fill="none"/>
<rect x="2991.4" y="917.6" width="33.5" height="200" fill="none" stroke="#000" stroke-width="4"/>
<path clip-path="url(#c2991_917)" d="M2990.8,885.5L3025.5,898.11M2990.8,918.6L3025.5,931.21M2990.8,951.7L3025.5,964.31M2990.8,984.8L3025.5,997.41M2990.8,1017.9L3025.5,1030.51M2990.8,1051L3025.5,1063.61M2990.8,1084.1L3025.5,1096.71M2990.8,1117.2L3025.5,1129.81M2990.8,1150.3L3025.5,1162.91" stroke="#fff" stroke-width="2.8" fill="none"/></g>
<text transform="translate(2977,1017.55) rotate(-90) scale(0.95,1)" text-anchor="middle" fill="#000" stroke="#000" class="lab" letter-spacing="2.84">p2 (5)</text>
<text transform="translate(3065.1,1007.85) rotate(-90) scale(0.95,1)" text-anchor="middle" fill="#000" stroke="#000" class="lab" letter-spacing="2.84">AB</text>
<g><clipPath id="c2991_1317"><rect x="2990.8" y="1317.6" width="34.7" height="200"/></clipPath>
<rect x="2991.4" y="1317.6" width="33.5" height="200" fill="#f3f3f3"/>
<path clip-path="url(#c2991_1317)" d="M2991.4,1282.1L3024.9,1294.71M2991.4,1315.2L3024.9,1327.81M2991.4,1348.3L3024.9,1360.91M2991.4,1381.4L3024.9,1394.01M2991.4,1414.5L3024.9,1427.11M2991.4,1447.6L3024.9,1460.21M2991.4,1480.7L3024.9,1493.31M2991.4,1513.8L3024.9,1526.41M2991.4,1546.9L3024.9,1559.51" stroke="#000" stroke-width="4" fill="none"/>
<rect x="2991.4" y="1317.6" width="33.5" height="200" fill="none" stroke="#000" stroke-width="4"/>
<path clip-path="url(#c2991_1317)" d="M2990.8,1285.5L3025.5,1298.11M2990.8,1318.6L3025.5,1331.21M2990.8,1351.7L3025.5,1364.31M2990.8,1384.8L3025.5,1397.41M2990.8,1417.9L3025.5,1430.51M2990.8,1451L3025.5,1463.61M2990.8,1484.1L3025.5,1496.71M2990.8,1517.2L3025.5,1529.81M2990.8,1550.3L3025.5,1562.91" stroke="#fff" stroke-width="2.8" fill="none"/></g>
<text transform="translate(2977,1417.55) rotate(-90) scale(0.95,1)" text-anchor="middle" fill="#000" stroke="#000" class="lab" letter-spacing="2.84">p3 (2)</text>
<text transform="translate(3065.1,1405.75) rotate(-90) scale(0.95,1)" text-anchor="middle" fill="#000" stroke="#000" class="lab" letter-spacing="2.84">W</text>
<g><clipPath id="c2991_1717"><rect x="2990.8" y="1717.6" width="34.7" height="200"/></clipPath>
<rect x="2991.4" y="1717.6" width="33.5" height="200" fill="#a8663f"/>
<path clip-path="url(#c2991_1717)" d="M2991.4,1682.1L3024.9,1694.71M2991.4,1715.2L3024.9,1727.81M2991.4,1748.3L3024.9,1760.91M2991.4,1781.4L3024.9,1794.01M2991.4,1814.5L3024.9,1827.11M2991.4,1847.6L3024.9,1860.21M2991.4,1880.7L3024.9,1893.31M2991.4,1913.8L3024.9,1926.41M2991.4,1946.9L3024.9,1959.51" stroke="#000" stroke-width="4" fill="none"/>
<rect x="2991.4" y="1717.6" width="33.5" height="200" fill="none" stroke="#000" stroke-width="4"/>
<path clip-path="url(#c2991_1717)" d="M2990.8,1685.5L3025.5,1698.11M2990.8,1718.6L3025.5,1731.21M2990.8,1751.7L3025.5,1764.31M2990.8,1784.8L3025.5,1797.41M2990.8,1817.9L3025.5,1830.51M2990.8,1851L3025.5,1863.61M2990.8,1884.1L3025.5,1896.71M2990.8,1917.2L3025.5,1929.81M2990.8,1950.3L3025.5,1962.91" stroke="#fff" stroke-width="2.8" fill="none"/></g>
<text transform="translate(2977,1817.55) rotate(-90) scale(0.95,1)" text-anchor="middle" fill="#000" stroke="#000" class="lab" letter-spacing="2.84">p4 (5)</text>
<text transform="translate(3065.1,1807.85) rotate(-90) scale(0.95,1)" text-anchor="middle" fill="#000" stroke="#000" class="lab" letter-spacing="2.84">AB</text>
<g><clipPath id="c2991_2117"><rect x="2990.8" y="2117.6" width="34.7" height="200"/></clipPath>
<rect x="2991.4" y="2117.6" width="33.5" height="200" fill="#a8663f"/>
<path clip-path="url(#c2991_2117)" d="M2991.4,2082.1L3024.9,2094.71M2991.4,2115.2L3024.9,2127.81M2991.4,2148.3L3024.9,2160.91M2991.4,2181.4L3024.9,2194.01M2991.4,2214.5L3024.9,2227.11M2991.4,2247.6L3024.9,2260.21M2991.4,2280.7L3024.9,2293.31M2991.4,2313.8L3024.9,2326.41M2991.4,2346.9L3024.9,2359.51" stroke="#000" stroke-width="4" fill="none"/>
<rect x="2991.4" y="2117.6" width="33.5" height="200" fill="none" stroke="#000" stroke-width="4"/>
<path clip-path="url(#c2991_2117)" d="M2990.8,2085.5L3025.5,2098.11M2990.8,2118.6L3025.5,2131.21M2990.8,2151.7L3025.5,2164.31M2990.8,2184.8L3025.5,2197.41M2990.8,2217.9L3025.5,2230.51M2990.8,2251L3025.5,2263.61M2990.8,2284.1L3025.5,2296.71M2990.8,2317.2L3025.5,2329.81M2990.8,2350.3L3025.5,2362.91" stroke="#fff" stroke-width="2.8" fill="none"/></g>
<text transform="translate(2977,2217.55) rotate(-90) scale(0.95,1)" text-anchor="middle" fill="#000" stroke="#000" class="lab" letter-spacing="2.84">p5 (2)</text>
<text transform="translate(3065.1,2207.85) rotate(-90) scale(0.95,1)" text-anchor="middle" fill="#000" stroke="#000" class="lab" letter-spacing="2.84">AB</text>
<g opacity="0.15">
<g><clipPath id="c3424_517"><rect x="3424.25" y="517.6" width="34.7" height="200"/></clipPath>
<rect x="3424.85" y="517.6" width="33.5" height="200" fill="#f3f3f3"/>
<path clip-path="url(#c3424_517)" d="M3424.85,482.1L3458.35,494.71M3424.85,515.2L3458.35,527.81M3424.85,548.3L3458.35,560.91M3424.85,581.4L3458.35,594.01M3424.85,614.5L3458.35,627.11M3424.85,647.6L3458.35,660.21M3424.85,680.7L3458.35,693.31M3424.85,713.8L3458.35,726.41M3424.85,746.9L3458.35,759.51" stroke="#000" stroke-width="4" fill="none"/>
<rect x="3424.85" y="517.6" width="33.5" height="200" fill="none" stroke="#000" stroke-width="4"/>
<path clip-path="url(#c3424_517)" d="M3424.25,485.5L3458.95,498.11M3424.25,518.6L3458.95,531.21M3424.25,551.7L3458.95,564.31M3424.25,584.8L3458.95,597.41M3424.25,617.9L3458.95,630.51M3424.25,651L3458.95,663.61M3424.25,684.1L3458.95,696.71M3424.25,717.2L3458.95,729.81M3424.25,750.3L3458.95,762.91" stroke="#fff" stroke-width="2.8" fill="none"/></g>
<text transform="translate(3410.45,617.55) rotate(-90) scale(0.95,1)" text-anchor="middle" fill="#000" stroke="#000" class="lab" letter-spacing="2.84">p1 (0)</text>
<text transform="translate(3498.55,605.75) rotate(-90) scale(0.95,1)" text-anchor="middle" fill="#000" stroke="#000" class="lab" letter-spacing="2.84">W</text>
<g><clipPath id="c3424_917"><rect x="3424.25" y="917.6" width="34.7" height="200"/></clipPath>
<rect x="3424.85" y="917.6" width="33.5" height="200" fill="#f3f3f3"/>
<path clip-path="url(#c3424_917)" d="M3424.85,882.1L3458.35,894.71M3424.85,915.2L3458.35,927.81M3424.85,948.3L3458.35,960.91M3424.85,981.4L3458.35,994.01M3424.85,1014.5L3458.35,1027.11M3424.85,1047.6L3458.35,1060.21M3424.85,1080.7L3458.35,1093.31M3424.85,1113.8L3458.35,1126.41M3424.85,1146.9L3458.35,1159.51" stroke="#000" stroke-width="4" fill="none"/>
<rect x="3424.85" y="917.6" width="33.5" height="200" fill="none" stroke="#000" stroke-width="4"/>
<path clip-path="url(#c3424_917)" d="M3424.25,885.5L3458.95,898.11M3424.25,918.6L3458.95,931.21M3424.25,951.7L3458.95,964.31M3424.25,984.8L3458.95,997.41M3424.25,1017.9L3458.95,1030.51M3424.25,1051L3458.95,1063.61M3424.25,1084.1L3458.95,1096.71M3424.25,1117.2L3458.95,1129.81M3424.25,1150.3L3458.95,1162.91" stroke="#fff" stroke-width="2.8" fill="none"/></g>
<text transform="translate(3410.45,1017.55) rotate(-90) scale(0.95,1)" text-anchor="middle" fill="#000" stroke="#000" class="lab" letter-spacing="2.84">p2 (0)</text>
<text transform="translate(3498.55,1005.75) rotate(-90) scale(0.95,1)" text-anchor="middle" fill="#000" stroke="#000" class="lab" letter-spacing="2.84">W</text>
<g><clipPath id="c3424_1717"><rect x="3424.25" y="1717.6" width="34.7" height="200"/></clipPath>
<rect x="3424.85" y="1717.6" width="33.5" height="200" fill="#f3f3f3"/>
<path clip-path="url(#c3424_1717)" d="M3424.85,1682.1L3458.35,1694.71M3424.85,1715.2L3458.35,1727.81M3424.85,1748.3L3458.35,1760.91M3424.85,1781.4L3458.35,1794.01M3424.85,1814.5L3458.35,1827.11M3424.85,1847.6L3458.35,1860.21M3424.85,1880.7L3458.35,1893.31M3424.85,1913.8L3458.35,1926.41M3424.85,1946.9L3458.35,1959.51" stroke="#000" stroke-width="4" fill="none"/>
<rect x="3424.85" y="1717.6" width="33.5" height="200" fill="none" stroke="#000" stroke-width="4"/>
<path clip-path="url(#c3424_1717)" d="M3424.25,1685.5L3458.95,1698.11M3424.25,1718.6L3458.95,1731.21M3424.25,1751.7L3458.95,1764.31M3424.25,1784.8L3458.95,1797.41M3424.25,1817.9L3458.95,1830.51M3424.25,1851L3458.95,1863.61M3424.25,1884.1L3458.95,1896.71M3424.25,1917.2L3458.95,1929.81M3424.25,1950.3L3458.95,1962.91" stroke="#fff" stroke-width="2.8" fill="none"/></g>
<text transform="translate(3410.45,1817.55) rotate(-90) scale(0.95,1)" text-anchor="middle" fill="#000" stroke="#000" class="lab" letter-spacing="2.84">p4 (0)</text>
<text transform="translate(3498.55,1805.75) rotate(-90) scale(0.95,1)" text-anchor="middle" fill="#000" stroke="#000" class="lab" letter-spacing="2.84">W</text>
</g>
<g opacity="0.15">
<g><clipPath id="c3858_517"><rect x="3857.7" y="517.6" width="34.7" height="200"/></clipPath>
<rect x="3858.3" y="517.6" width="33.5" height="200" fill="#6b3a22"/>
<path clip-path="url(#c3858_517)" d="M3858.3,482.1L3891.8,494.71M3858.3,515.2L3891.8,527.81M3858.3,548.3L3891.8,560.91M3858.3,581.4L3891.8,594.01M3858.3,614.5L3891.8,627.11M3858.3,647.6L3891.8,660.21M3858.3,680.7L3891.8,693.31M3858.3,713.8L3891.8,726.41M3858.3,746.9L3891.8,759.51" stroke="#000" stroke-width="4" fill="none"/>
<rect x="3858.3" y="517.6" width="33.5" height="200" fill="none" stroke="#000" stroke-width="4"/>
<path clip-path="url(#c3858_517)" d="M3857.7,485.5L3892.4,498.11M3857.7,518.6L3892.4,531.21M3857.7,551.7L3892.4,564.31M3857.7,584.8L3892.4,597.41M3857.7,617.9L3892.4,630.51M3857.7,651L3892.4,663.61M3857.7,684.1L3892.4,696.71M3857.7,717.2L3892.4,729.81M3857.7,750.3L3892.4,762.91" stroke="#fff" stroke-width="2.8" fill="none"/></g>
<text transform="translate(3843.9,617.55) rotate(-90) scale(0.95,1)" text-anchor="middle" fill="#000" stroke="#000" class="lab" letter-spacing="2.84">p1 (0)</text>
<text transform="translate(3932,605.75) rotate(-90) scale(0.95,1)" text-anchor="middle" fill="#000" stroke="#000" class="lab" letter-spacing="2.84">MB</text>
<g><clipPath id="c3858_917"><rect x="3857.7" y="917.6" width="34.7" height="200"/></clipPath>
<rect x="3858.3" y="917.6" width="33.5" height="200" fill="#f3f3f3"/>
<path clip-path="url(#c3858_917)" d="M3858.3,882.1L3891.8,894.71M3858.3,915.2L3891.8,927.81M3858.3,948.3L3891.8,960.91M3858.3,981.4L3891.8,994.01M3858.3,1014.5L3891.8,1027.11M3858.3,1047.6L3891.8,1060.21M3858.3,1080.7L3891.8,1093.31M3858.3,1113.8L3891.8,1126.41M3858.3,1146.9L3891.8,1159.51" stroke="#000" stroke-width="4" fill="none"/>
<rect x="3858.3" y="917.6" width="33.5" height="200" fill="none" stroke="#000" stroke-width="4"/>
<path clip-path="url(#c3858_917)" d="M3857.7,885.5L3892.4,898.11M3857.7,918.6L3892.4,931.21M3857.7,951.7L3892.4,964.31M3857.7,984.8L3892.4,997.41M3857.7,1017.9L3892.4,1030.51M3857.7,1051L3892.4,1063.61M3857.7,1084.1L3892.4,1096.71M3857.7,1117.2L3892.4,1129.81M3857.7,1150.3L3892.4,1162.91" stroke="#fff" stroke-width="2.8" fill="none"/></g>
<text transform="translate(3843.9,1017.55) rotate(-90) scale(0.95,1)" text-anchor="middle" fill="#000" stroke="#000" class="lab" letter-spacing="2.84">p2 (0)</text>
<text transform="translate(3932,1005.75) rotate(-90) scale(0.95,1)" text-anchor="middle" fill="#000" stroke="#000" class="lab" letter-spacing="2.84">W</text>
<g><clipPath id="c3858_1317"><rect x="3857.7" y="1317.6" width="34.7" height="200"/></clipPath>
<rect x="3858.3" y="1317.6" width="33.5" height="200" fill="#a8663f"/>
<path clip-path="url(#c3858_1317)" d="M3858.3,1282.1L3891.8,1294.71M3858.3,1315.2L3891.8,1327.81M3858.3,1348.3L3891.8,1360.91M3858.3,1381.4L3891.8,1394.01M3858.3,1414.5L3891.8,1427.11M3858.3,1447.6L3891.8,1460.21M3858.3,1480.7L3891.8,1493.31M3858.3,1513.8L3891.8,1526.41M3858.3,1546.9L3891.8,1559.51" stroke="#000" stroke-width="4" fill="none"/>
<rect x="3858.3" y="1317.6" width="33.5" height="200" fill="none" stroke="#000" stroke-width="4"/>
<path clip-path="url(#c3858_1317)" d="M3857.7,1285.5L3892.4,1298.11M3857.7,1318.6L3892.4,1331.21M3857.7,1351.7L3892.4,1364.31M3857.7,1384.8L3892.4,1397.41M3857.7,1417.9L3892.4,1430.51M3857.7,1451L3892.4,1463.61M3857.7,1484.1L3892.4,1496.71M3857.7,1517.2L3892.4,1529.81M3857.7,1550.3L3892.4,1562.91" stroke="#fff" stroke-width="2.8" fill="none"/></g>
<text transform="translate(3843.9,1417.55) rotate(-90) scale(0.95,1)" text-anchor="middle" fill="#000" stroke="#000" class="lab" letter-spacing="2.84">p3 (0)</text>
<text transform="translate(3932,1407.85) rotate(-90) scale(0.95,1)" text-anchor="middle" fill="#000" stroke="#000" class="lab" letter-spacing="2.84">AB</text>
</g>
<rect x="604.5" y="918.5" width="162.8" height="39.8" fill="#2bb2ba" fill-opacity="0.75" stroke="#000" stroke-width="4"/>
<text class="lab" transform="translate(620,950.7) scale(1.0,1)" fill="#fff" stroke="#fff" letter-spacing="2.40"><tspan class="arr">←</tspan>p1</text>
<rect x="1471.8" y="518" width="162.8" height="39.8" fill="#3f2fce" fill-opacity="0.75" stroke="#000" stroke-width="4"/>
<text class="lab" transform="translate(1487.3,550.2) scale(1.0,1)" fill="#fff" stroke="#fff" letter-spacing="2.40"><tspan class="arr">←</tspan>p5</text>
<rect x="1038.4" y="2117.7" width="162.8" height="39.8" fill="#e07810" fill-opacity="0.75" stroke="#000" stroke-width="4"/>
<text class="lab" transform="translate(1049.4,2149.9) scale(1.0,1)" fill="#fff" stroke="#fff" letter-spacing="2.40"><tspan class="arr">↓</tspan><tspan dx="-3.5">p10</tspan></text>
<rect x="2338.2" y="1317.6" width="162.8" height="39.8" fill="#c81982" fill-opacity="0.75" stroke="#000" stroke-width="4"/>
<text class="lab" transform="translate(2353.7,1349.8) scale(1.0,1)" fill="#fff" stroke="#fff" letter-spacing="2.40"><tspan class="arr">←</tspan>p15</text>
<rect x="2338" y="517.8" width="162.8" height="39.8" fill="#7d73fa" fill-opacity="0.75" stroke="#000" stroke-width="4"/>
<text class="lab" transform="translate(2353.5,550) scale(1.0,1)" fill="#fff" stroke="#fff" letter-spacing="2.40"><tspan class="arr">←</tspan>p21</text>
<circle cx="541.3" cy="534" r="10.2" fill="#2bb2ba" stroke="#000" stroke-width="3.4"/>
<circle cx="588" cy="937.5" r="10.2" fill="#2bb2ba" stroke="#000" stroke-width="3.4"/>
<circle cx="974" cy="533.7" r="10.2" fill="#3f2fce" stroke="#000" stroke-width="3.4"/>
<circle cx="1454.5" cy="537.2" r="10.2" fill="#3f2fce" stroke="#000" stroke-width="3.4"/>
<circle cx="1407.7" cy="533.5" r="10.2" fill="#e07810" stroke="#000" stroke-width="3.4"/>
<circle cx="1021" cy="2137" r="10.2" fill="#e07810" stroke="#000" stroke-width="3.4"/>
<circle cx="1841" cy="533.6" r="10.2" fill="#c81982" stroke="#000" stroke-width="3.4"/>
<circle cx="2321.4" cy="1337.2" r="10.2" fill="#c81982" stroke="#000" stroke-width="3.4"/>
<circle cx="2274.5" cy="533.7" r="10.2" fill="#7d73fa" stroke="#000" stroke-width="3.4"/>
<circle cx="2321" cy="537.3" r="10.2" fill="#7d73fa" stroke="#000" stroke-width="3.4"/>
</svg></body></html>
